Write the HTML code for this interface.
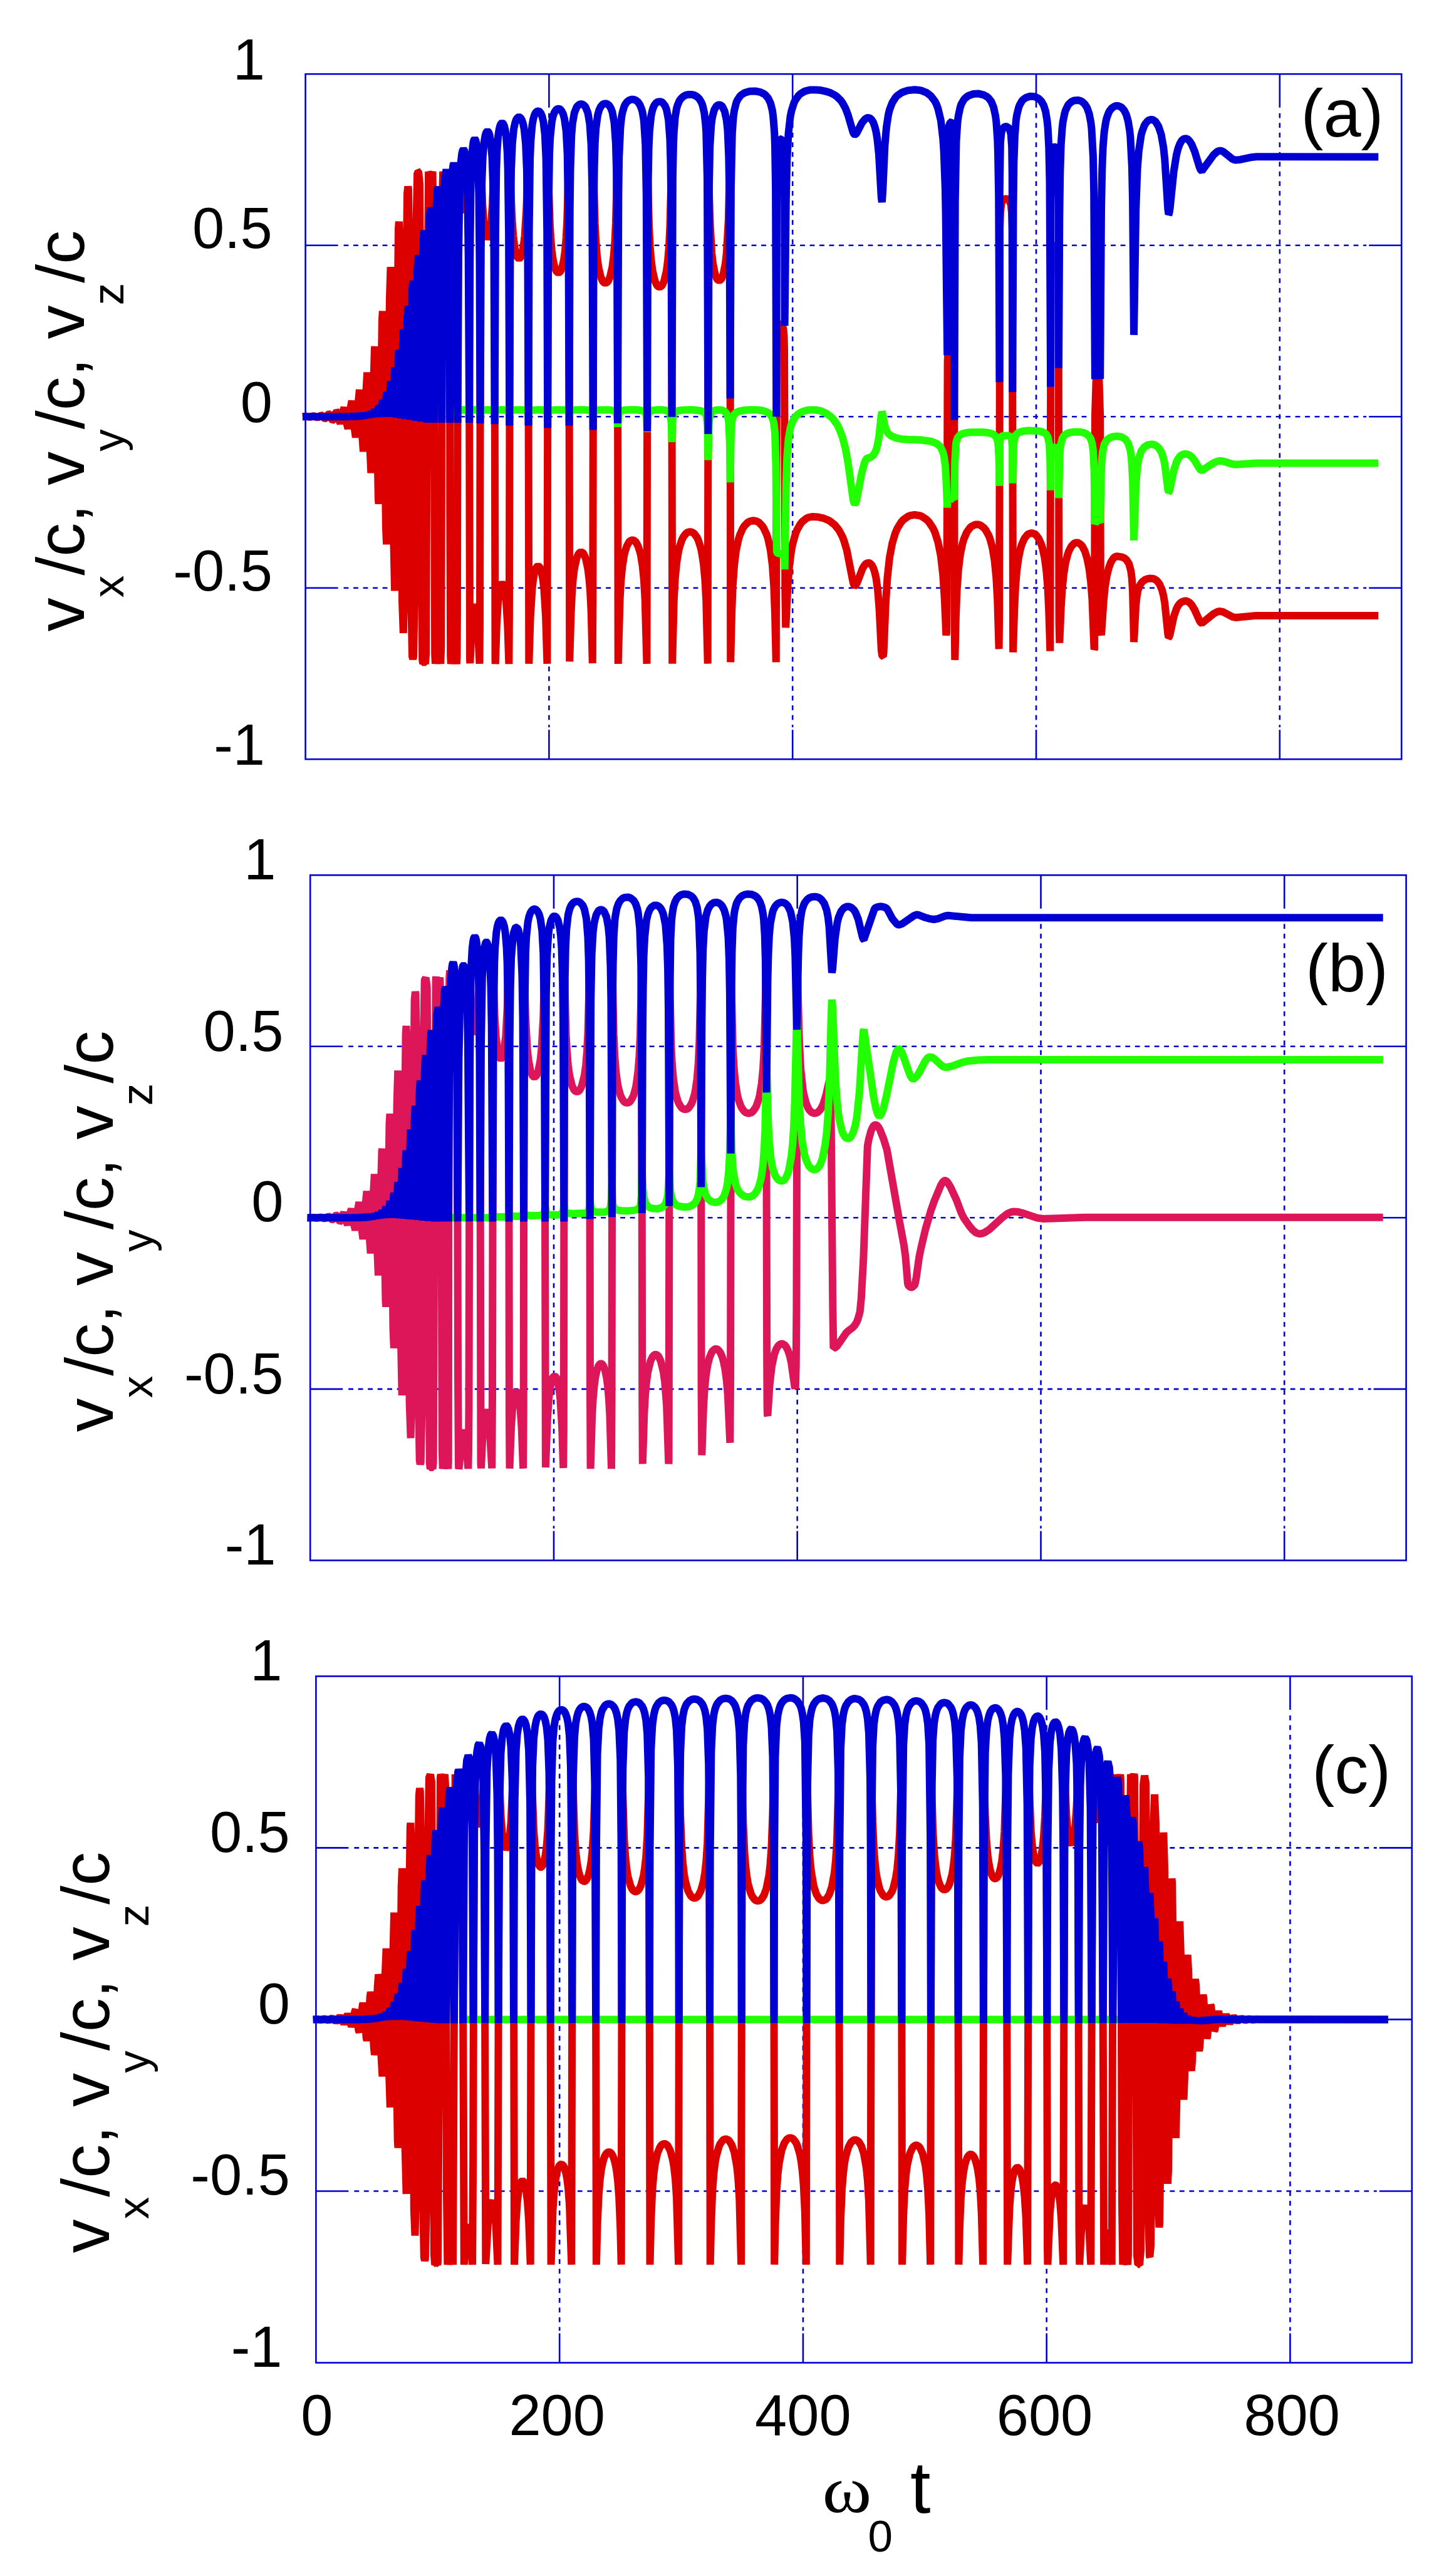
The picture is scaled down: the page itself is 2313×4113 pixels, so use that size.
<!DOCTYPE html>
<html lang="en"><head><meta charset="utf-8"><title>velocity components</title>
<style>html,body{margin:0;padding:0;background:#fff}svg{display:block}text{font-family:"Liberation Sans",sans-serif;fill:#000}.tk{font-size:92px}.ti{font-size:108px}.sb{font-size:71px}.tg{font-size:108px}.om{font-family:"Liberation Serif",serif;font-size:112px}.fr{fill:none;stroke:#0000d2;stroke-width:2.6}.gd{fill:none;stroke:#0000d2;stroke-width:2.6;stroke-dasharray:7.8 7.7}.cv path{fill:none;stroke-width:12;stroke-linejoin:bevel;stroke-linecap:butt}</style></head><body>
<svg width="2313" height="4113" viewBox="0 0 2313 4113">
<rect width="2313" height="4113" fill="#fff"/>
<g id="panel-a">
<path d="M876.4 118.2 V171.7 M876.4 1165.2 V1212.2" class="fr"/>
<path d="M876.4 180.7 V1161.2" class="gd"/>
<path d="M1265.2 118.2 V171.7 M1265.2 1165.2 V1212.2" class="fr"/>
<path d="M1265.2 180.7 V1161.2" class="gd"/>
<path d="M1654.0 118.2 V171.7 M1654.0 1165.2 V1212.2" class="fr"/>
<path d="M1654.0 180.7 V1161.2" class="gd"/>
<path d="M2042.8 118.2 V171.7 M2042.8 1165.2 V1212.2" class="fr"/>
<path d="M2042.8 180.7 V1161.2" class="gd"/>
<path d="M487.6 391.7 H539.6 M2185.2 391.7 H2237.2" class="fr"/>
<path d="M548.6 391.7 H2181.2" class="gd"/>
<path d="M487.6 665.2 H539.6 M2185.2 665.2 H2237.2" class="fr"/>
<path d="M548.6 665.2 H2181.2" class="gd"/>
<path d="M487.6 938.7 H539.6 M2185.2 938.7 H2237.2" class="fr"/>
<path d="M548.6 938.7 H2181.2" class="gd"/>
<g class="cv">
<path d="M482.9 665.2L488.4 664.7L494.5 666L500.6 664.1L506.7 666.8L512.8 663L513.7 663.2L517.7 667.7L518.9 668.3L519.7 668L521.7 665.4L523.7 661.9L525 661L525.7 661.2L527.7 664.8L529.7 669.6L531.1 671L531.7 670.8L533.7 666.1L535.7 659.5L537.3 657.3L537.8 657.6L539.8 663.6L541.8 672.7L543.4 676L545.8 668L547.8 655.6L549.5 650.9L551.8 660.8L553.8 677.5L555.6 684.5L557.8 671.9L559.8 649.9L561.7 640L563.8 655.1L565.8 684.2L567.8 698.5L569.8 680.2L571.9 642.5L573.9 622.2L575.9 643.7L577.9 692.4L580 721L581.9 695.8L583.9 633.8L586.1 594.5L587.9 622.6L589.9 700.5L592.3 755.3L593.9 724.6L595.9 627.8L597.9 556.9L598.4 553.4L599.9 584.4L603.9 797.1L604.6 804.5L605.9 775.4L609.9 511.3L610.8 496.7L611.9 519.6L615.9 840.9L617.1 869.2L617.9 855.5L621.9 478.7L623.5 426.5L624 430.2L626 569.8L628 845.9L630.1 943.3L632 858.6L634 539.4L636 365L636.8 353.7L638 379.2L642 959.3L643.8 1010.9L646 919.8L648 490.8L650 309.6L651.2 297.5L652 303L654 445.5L656 943.2L658 1047.8L659.1 1052.2L660.1 1048.4L662.1 939L664.1 383.3L666.1 277.5L667.6 274.1L668.1 274.3L670.1 294.3L674.1 1052.5L675.1 1059.7L677 1057.7L678.8 1059.7L680.1 1044.9L682.1 521.4L684.1 274.1L686.1 281.8L687.4 284.6L688.1 283.7L690.5 273.8L692.1 382.5L694.2 1044.4L694.9 1059.7L698.2 1036.3L699.2 1034.6L700.2 1036.5L703.3 1059.7L704.2 1033.8L706.2 310.4L707.1 273.8L710.2 307.9L712.5 316.2L714.3 311.1L717.8 273.8L718.3 817.6L719.2 1046.9L719.8 1060.1L722.7 1031.1L723.9 1026.5L724.7 1026.5L726.3 1033.8L728.8 1060.1L729.5 1046.9L729.9 978.9L731 410.6L731.7 277.2L732 271.1L732.2 270.6L732.6 273.6L734.6 306.1L736.7 327.2L737.9 333.5L738.6 335.4L739.8 337L741.1 335.4L741.7 333.5L743.5 323L747.4 270.6L748.2 291.2L748.6 355.2L750 1052.9L750.4 1059.1L752.4 1009.5L753.8 987.7L755.4 973.6L756.6 968.6L757.8 966.9L759.1 968.6L760.2 973.6L761.9 987.7L765.5 1059.7L766 1001.1L767 366.9L767.6 272.7L767.8 270.5L768.1 275.1L770.2 325.8L772 351.7L774.9 372.9L776.5 378L778.1 379.7L779.8 378L781.4 372.9L784.3 351.7L786.1 325.8L788.5 270.5L789.3 366.9L790.5 1053.2L790.7 1060.1L790.9 1056.8L792.8 998.5L795.1 960.1L798.1 938.5L799.8 933.4L801.5 931.7L803.3 933.4L804.9 938.5L807.9 960.1L810.3 998.5L812.4 1060.1L812.9 982.1L814.2 272.9L817.1 345.2L819.3 376.6L821.1 391.5L823 402.2L825.1 409.1L826.2 411.2L828.4 412.8L830.7 411.2L831.8 409.1L833.9 402.2L835.8 391.5L837.6 376.6L840.4 332.4L842.4 270.9L843.1 334.9L844.3 1059.8L846.7 984.6L849.5 939.5L851.3 924.6L853.3 914L855.5 907.3L856.6 905.2L858.9 903.6L861.2 905.2L862.3 907.3L864.5 914L866.5 924.6L868.3 939.5L871.1 984.6L873.4 1059.8L875 270.3L877.6 354.6L879.1 380.2L880.8 400.1L882.8 414.9L885.1 425.3L887.5 432L888.8 434L891.4 435.6L894 434L895.3 432L897.7 425.3L900 414.9L902 400.1L903.7 380.2L905.1 354.6L907.7 270.3L908.3 389.3L909.2 1056.3L911.6 976.9L913 947.7L914.7 925L916.8 908L920.5 891.2L923.3 884.7L924.7 882.8L927.6 881.2L930.5 882.8L932 884.7L934.7 891.2L938.4 908L940.5 925L942.3 947.7L943.7 976.9L945.8 1059L946.4 955.7L947.3 273.3L949.7 356.7L951.2 386L953 408.6L955.2 425.5L959 442.3L961.8 448.7L963.3 450.6L966.3 452.2L969.3 450.6L970.8 448.7L973.7 442.3L977.5 425.5L979.6 408.6L981.5 386L982.9 356.7L985.1 272L985.7 371.5L986.7 1059.9L989.6 955.8L991.3 926.3L993.5 904.1L996.1 887.7L997.5 881.3L1000.7 871.6L1004.1 865.5L1005.9 863.6L1009.6 862.2L1013.2 863.6L1015 865.5L1018.4 871.6L1021.6 881.3L1023.1 887.7L1025.7 904.1L1027.9 926.3L1029.6 955.8L1032.5 1059.9L1033.7 271.8L1036.1 363.4L1037.6 392.9L1039.4 415.4L1041.6 432.1L1045.4 448.6L1048.3 454.9L1049.8 456.9L1052.8 458.4L1055.8 456.9L1057.3 454.9L1060.1 448.6L1064 432.1L1066.1 415.4L1068 392.9L1069.4 363.4L1071.9 271.8L1073.2 1059.7L1075.8 958.2L1077.6 924.5L1080 899.2L1083 880.6L1084.7 873.3L1088.4 862.1L1090.4 857.9L1094.7 852.1L1096.9 850.3L1101.4 848.9L1106 850.3L1108.2 852.1L1112.5 857.9L1114.5 862.1L1118.2 873.3L1119.9 880.6L1122.9 899.2L1125.3 924.5L1127.2 958.2L1129.7 1059.7L1131 274.5L1133.2 352.2L1136.1 404.1L1138.1 421.1L1141.5 438L1144 444.5L1145.3 446.5L1148 448L1150.7 446.5L1152 444.5L1154.5 438L1157.9 421.1L1159.8 404.1L1162.8 352.2L1164.8 271.2L1165.4 376L1166.2 1057.3L1168 980.4L1169.7 935.8L1172.1 902.5L1175.1 878.3L1178.9 860.7L1181.1 853.9L1185.8 843.4L1188.4 839.5L1193.8 834L1196.7 832.4L1202.5 831.1L1208.3 832.4L1211.2 834L1216.6 839.5L1219.2 843.4L1224 853.9L1226.1 860.7L1229.9 878.3L1233 902.5L1235.3 935.8L1237 980.4L1238.8 1057.3L1239.9 557.7L1240.4 537.3L1241.5 525L1243.1 519.8L1244.5 518L1246 517.5L1247.5 518L1248.9 519.8L1250.4 525L1251.5 537.3L1252 557.7L1253.3 940.6L1254.2 1002.2L1257.4 936.1L1260 903.4L1263.3 878.3L1265.3 868.3L1269.8 852.3L1272.3 846L1277.9 836.3L1280.9 832.7L1287.3 827.6L1290.6 826.1L1297.3 824.9L1305.8 825.5L1314.1 827.3L1322 830.5L1325.7 832.7L1332.8 838.4L1339.1 846.3L1344.7 856.8L1347.2 863.2L1351.7 878.4L1361.7 929.6L1363.1 933.9L1364.4 935.4L1365.9 934.6L1368.2 930.4L1376.9 907.6L1379.9 902.7L1381.9 900.4L1385.1 898.7L1387.5 898.8L1388.8 899.5L1391.5 902.1L1394 906.7L1396.3 913.6L1398.5 923.2L1401.3 943.8L1403.6 973L1406.9 1038.7L1407.9 1045.8L1409.1 1047.8L1409.8 1048.1L1410.6 1041.3L1413.7 965.5L1416.5 922.2L1420 890.2L1424.4 866.9L1429.5 850.1L1432.4 843.6L1438.6 833.6L1442 829.9L1449 824.8L1452.6 823.2L1460 822L1467.9 823.2L1471.8 824.7L1479.2 829.8L1482.7 833.4L1489.2 843.1L1492.2 849.4L1497.4 865.6L1501.8 887.7L1505.2 917.6L1507.8 956.5L1510.3 1014.5L1510.9 1009.7L1511.4 962.4L1512.6 579.3L1513 566.9L1514 559.9L1515.7 556.6L1518.2 555.8L1520.7 557.5L1522.2 562.6L1523.1 586.4L1523.7 999.4L1524.3 1053.8L1525.8 986.8L1527.5 943.2L1529.8 910L1532.8 885.5L1536.5 867.6L1538.6 860.6L1543.2 849.9L1548.3 842.7L1551 840.3L1556.6 837.6L1562.3 837.6L1565.1 838.6L1570.5 842.7L1573.1 845.8L1578 854.5L1580.3 860.2L1584.3 875.1L1587.6 895.5L1590.3 923L1592.3 959.2L1594.6 1036.2L1595.2 973.1L1596.1 364.8L1596.9 338.6L1598.6 325L1599.8 321.7L1601.9 318.8L1604.2 317.5L1606.7 317.4L1609.2 318.3L1611.3 320.5L1613.7 327.3L1614.9 338.6L1615.7 364.8L1617.1 1041.6L1619.1 976L1620.8 940L1623 911.9L1625.9 890.7L1629.2 875.2L1631.1 869.1L1635.2 859.9L1639.7 854.1L1642 852.4L1646.7 851L1651.4 852.4L1653.7 854.1L1658.1 859.9L1662.2 869.1L1664.1 875.1L1667.5 890.6L1670.3 911.7L1672.6 939.6L1674.3 975.4L1676.3 1039.5L1677.5 436.5L1678 412.2L1678.8 401.4L1680.6 393.9L1682 392.2L1683.5 391.7L1685.1 392.2L1686.5 393.9L1688.3 401.4L1689.1 412.2L1689.6 436.5L1690.4 928L1690.6 994.6L1691.3 1026.6L1693.7 969.7L1695.6 940.1L1698 916.4L1700.9 898.3L1704.4 884.9L1706.2 879.8L1710.3 872.1L1714.5 867.7L1716.7 866.7L1718.9 866.3L1721.2 866.7L1725.5 869.6L1727.7 872.2L1731.7 880L1735.3 891.5L1738.5 907.5L1741.2 928.9L1743.4 956.6L1746.6 1037.1L1747 1036L1747.9 665.2L1750.7 573.4L1752.1 555.8L1753.4 573.4L1756.2 665.2L1756.9 957.8L1757.2 996.4L1757.6 1012.5L1758 1014.1L1761.7 959.5L1763.9 937.7L1766.6 920.3L1769.8 907.1L1773.3 897.7L1777.1 891.6L1779.1 889.7L1781.1 888.6L1783.1 888.2L1791 889.4L1794.6 891L1797.9 893.6L1802.1 900L1805.3 911.7L1806.9 924.9L1808.1 945.1L1810 1025.1L1813.2 965.9L1814.7 952L1816.6 942.2L1818.9 935.5L1823.2 929L1828.2 925.4L1831.9 924.1L1835.8 923.5L1841.3 924L1846.3 926.8L1850.9 932.6L1855 942.2L1857.3 951.4L1859.3 963.1L1864.4 1012.9L1865.5 1017.6L1866.2 1017.1L1867.6 1013L1873.6 985L1878 971.8L1880.5 967.2L1883.2 963.7L1886 961.3L1890.5 959.6L1893.4 959.6L1896 960.4L1898.6 962L1902.3 965.9L1907 973.7L1915 991.6L1916.8 994.2L1918.5 995.1L1937.2 980L1943.4 976.7L1947.5 976L1952.8 977.2L1967 984.8L1972.4 986L2005.5 982.9L2200.3 983" stroke="#dc0000"/>
<path d="M712.5 665.2L718.1 665.2L720 656.5L721.6 654.9L723.9 654.3L726.7 654.7L728.6 656.5L730.5 665.2L731.7 659.4L732.9 656.7L735.1 655L738.6 654.3L743.5 654.7L746.4 656.2L747.7 658.6L749.2 665.2L750.2 659L751.3 656.4L753.8 654.7L757.8 654.3L761.9 654.7L764.4 656.4L765.5 659L766.5 665.2L767.8 658.7L769.2 656.2L772.7 654.7L778.1 654.3L783.6 654.7L787 656.2L788.5 658.7L789.7 665.2L790.9 658.3L792.3 655.9L795.1 654.7L801.5 654.3L807.9 654.7L810.7 655.9L812.1 658.2L813.3 665.2L814.5 658.8L815.5 656.6L817.8 655.2L821.1 654.6L832.8 654.4L839.8 655.5L841.4 656.6L842.1 657.9L843.6 665.2L844.9 657.6L846.1 655.9L848.7 654.9L861.2 654.3L870.5 655.3L872.1 656.3L872.9 657.5L874.2 665.2L875.3 658.2L876 656.7L877.6 655.5L885.1 654.4L901 654.6L904.5 655.2L906.7 656.8L907.7 659.3L908.6 665.2L909.7 657.9L911.6 655.6L916.8 654.6L930.5 654.3L940.5 654.9L944.3 656.4L945.8 660L946.7 667.9L947.8 658.7L949.7 655.9L952.1 655.1L956.4 654.5L972.3 654.4L979.6 655.6L982.2 657L983.5 658.6L985.1 665.8L986 681.6L987.3 662.4L988.2 659.1L989.6 657.3L992.3 655.7L997.5 654.7L1007.7 654.3L1018.4 654.5L1026.8 656.1L1029.6 658.1L1030.9 660.5L1032.2 667.8L1033.1 689.8L1034.2 665.2L1035 660.9L1036.1 658.4L1038.5 656.2L1042.8 654.9L1051.3 654.3L1058.7 654.6L1062.8 655.2L1066.1 656.6L1068.7 659.1L1070 662.1L1071.6 675.3L1072.5 705.7L1073.5 671.7L1074.4 664.4L1076.6 659L1078.8 657.1L1081.5 656L1088.4 654.8L1103.7 654.3L1116.4 655.4L1121.5 656.9L1124.2 658.6L1126.3 661.3L1127.9 665.9L1129.4 680.7L1130.4 734.7L1131.5 681L1132.2 670.7L1133.2 664.4L1135.3 659.2L1137.1 657.2L1139.2 655.9L1145.3 654.4L1152 654.7L1156.8 656.9L1159.8 660.4L1162.2 667L1163.3 674.6L1164.8 706.6L1165.6 770.2L1166.9 690.5L1168 674.8L1168.8 670L1170.8 663.7L1173.5 660L1176.9 657.7L1181.1 656.3L1188.4 655L1199.6 654.3L1208.3 654.4L1216.6 655.5L1224 657.8L1228.1 660.4L1229.9 662.3L1233 667.5L1235.3 676L1237 691.2L1238.5 743.2L1239.8 879.8L1240.2 882L1241.2 883.2L1248.9 884.4L1250.4 885.3L1251.3 886.7L1252.2 892.7L1252.6 909.2L1254.8 772.7L1256.4 728.5L1258.6 700.9L1261.5 683.6L1263.3 677.4L1267.4 668.4L1269.8 665.2L1275 660.3L1280.9 657.2L1287.3 655.3L1293.9 654.4L1301.6 654.5L1310 656.1L1318.1 659.5L1325.7 664.9L1329.4 668.4L1336.1 677.6L1339.1 683.4L1344.7 697.7L1349.6 716.2L1353.7 738.8L1361.7 796.7L1363.1 802.6L1364.4 804.6L1365.9 802.9L1367.5 797.9L1375.1 757.2L1379.9 739L1381.9 734.5L1384 731.8L1390.1 729.9L1394 726.8L1397.4 721.2L1399.5 715.7L1402.9 699.3L1406.9 661.6L1407.9 658.1L1408.5 659.2L1411.5 676.1L1413.7 684.2L1416.5 690.2L1418.1 692.4L1422.1 695.8L1429.5 699.1L1438.6 700.9L1449 701.8L1471.8 702.6L1486 704.7L1494.9 708.2L1499.7 712L1501.8 714.6L1505.2 722L1506.6 727.2L1508.8 742.1L1510.3 765.3L1512.2 810.6L1512.5 800.4L1513.2 797.6L1514.6 796.8L1517.4 796.5L1522.6 796.6L1523.4 797.3L1524.3 737.2L1525.8 710.1L1526.5 705.4L1528.5 699.2L1531.2 695.6L1534.5 693.3L1540.8 691.3L1548.3 690.3L1567.9 690L1575.6 690.7L1582.3 692.2L1586 693.8L1589 696.4L1591.4 700.5L1592.3 703.6L1593.7 713.1L1594.6 730.2L1595.5 775.8L1596 710L1596.6 701.7L1598.1 697.6L1599.8 696.3L1601.9 695.6L1609.2 695.5L1613.2 697L1614.9 700L1616 714.4L1616.3 771.7L1617.9 711.8L1619.1 702L1619.9 698.8L1621.8 694.4L1624.4 691.7L1627.5 690L1633.1 688.4L1639.7 687.6L1656 687.9L1662.2 689L1667.5 691.2L1670.3 693.7L1672.6 697.7L1674.9 709L1676.3 734.8L1677.1 782.9L1677.3 734.4L1678 719.6L1679.4 715.9L1681.1 714.8L1683 714.4L1686.9 715.4L1688 716.6L1688.9 719.1L1689.7 732L1690 795.3L1691.7 725.5L1692.9 711.7L1695.6 700.4L1698 696.2L1700.9 693.5L1704.4 691.7L1708.2 690.6L1714.5 689.6L1723.4 689.7L1729.7 690.9L1733.6 692.5L1738.5 696.5L1741.2 701.1L1743.4 708.1L1745 719.5L1746.6 752.2L1747.9 836.7L1750.7 830.5L1751.9 829.3L1753.4 830.2L1756.2 834.6L1757.6 762.1L1758.5 737.9L1759.9 722.7L1762.7 709.6L1766.6 702.7L1769.8 699.9L1773.3 698.2L1777.1 697.1L1783.1 696.5L1787.1 696.9L1791 698L1796.3 701.3L1800.8 707.6L1804.4 719.3L1806.1 732.2L1808.1 765.5L1810 862.8L1813.2 773.4L1815.6 744.4L1817.7 732.2L1821.6 720.4L1826.5 713.8L1831.9 710.4L1837.8 709.4L1841.3 709.8L1844.7 711.1L1849.4 714.9L1853.7 721.6L1857.3 732L1859.3 741.5L1864.4 781.9L1865.5 785.8L1866.2 785.2L1867.6 780.9L1873.6 751.4L1878 737.7L1880.5 732.8L1883.2 729.1L1886 726.6L1890.5 724.8L1896 725.4L1898.6 726.6L1902.3 729.5L1907 735.3L1915 748.6L1916.8 750.5L1918.5 751.2L1937.2 739.1L1943.4 736.4L1947.5 735.9L1952.8 736.5L1967 741L1972.4 741.7L2005.5 739.4L2200.3 739.4" stroke="#22ff00"/>
<path d="M482.9 665.2L558.4 665.2L561.7 664.6L564.6 665.2L567.8 664.2L570.7 665.2L573.9 663.5L576.8 665.2L580 662.4L582.9 665.2L586.1 660.7L589 665.2L592.3 658L595.2 665.2L598.4 653.8L601.4 665.2L604.6 647.6L607.6 665.2L610.8 638.6L613.8 665.2L617.1 625.8L617.9 631.3L620.2 665.2L623.5 608.4L626.6 665.7L630.1 586.6L633.3 666.8L636 568.9L636.8 559.1L638 580.5L640.1 668L642 576.6L643.8 526L647.3 669.2L650 509.2L651.2 488.5L652 498.8L654.9 670.5L658 462.1L659.1 448.3L660.1 460.6L663.1 671.8L666.1 433.4L667.6 407.5L668.1 409.6L670.1 484.3L672 673.3L674.1 449L675.1 396.2L676.1 374.2L677 368.2L678.1 377.7L678.8 396.3L680.1 472.1L681.8 675L684.1 408.4L686.1 340.7L687.4 331.6L688.1 334.2L690.5 396.5L692.8 675L694.9 396.2L696.2 336.3L698.2 302.1L699.2 298.8L700.2 302.5L702.2 338.8L703.3 396.8L705.3 675L707.1 396.3L708.2 328.2L710.2 282.9L712.5 270.6L714.3 277.9L716.3 313.4L717.8 396.1L718.1 675L720 345.9L721.6 285.6L722.7 268.8L723.5 263.1L724.3 261.3L725.1 263.1L725.9 268.8L727 285.6L728.6 345.9L730.5 675L732 410.2L733.3 316.1L735.6 260.3L737.3 245.2L738.6 240.1L739.8 238.5L741.1 240.1L742.3 245.2L744.1 260.3L746.4 316.1L747.7 410.2L749.2 675L750.2 418.5L751.3 310.3L752.4 266.7L753.8 241.6L755.4 227.9L756.6 223.4L757.8 221.9L759.1 223.4L760.2 227.9L761.9 241.6L763.3 266.8L764.4 310.4L765.5 418.7L766.5 676.1L767.8 397.2L769.2 291.4L770.7 250.5L772.7 227.4L774.9 214.9L776.5 210.8L778.1 209.5L779.8 210.8L781.4 214.9L783.6 227.4L785.5 250.6L787 291.5L788.5 397.5L789.7 677.2L790.9 371.7L792.3 270.2L793.3 242.9L795.1 217.7L796.6 207.5L798.1 201L799.8 197.4L801.5 196.3L803.3 197.4L804.9 201.1L806.5 207.5L807.9 217.7L809.8 243L810.7 270.3L812.1 372.1L813.3 679.4L814.5 391.6L816 271.4L817.8 229.1L820.1 206L822 196.9L824 191L826.2 187.8L828.4 186.7L830.7 187.8L832.8 191L834.9 196.9L836.7 206L839.1 229.1L840.9 271.4L842.4 391.6L843.6 679.4L844.6 368.1L846.1 253.3L847.3 225L849.5 199.7L851.3 189.8L853.3 183.2L855.5 179.3L857.7 177.5L860 177.5L861.2 178.1L863.4 181L865.5 186.1L867.4 194.3L869.8 214.9L871.6 253.5L873.2 368.7L874.2 683.3L875.3 358.7L877 246.2L878.3 218.9L880.8 194.8L882.8 185.3L885.1 179.2L887.5 175.5L890.1 173.7L892.7 173.7L894 174.4L896.5 177.1L898.9 181.9L901 189.6L903.7 209.1L905.7 246L907.4 358.1L908.6 679.4L909.7 336.5L910.5 270.6L912.2 217.3L913.8 197.6L916.8 180.2L920.5 171L921.9 169.2L924.7 166.8L927.6 166L930.5 166.8L933.4 169.2L934.7 171L938.4 180.3L941.4 197.7L943.7 231.2L945.2 299.9L946.7 686.5L947.8 334.8L948.6 268.9L949.7 229.4L951.2 205L954.1 183.8L956.4 175.5L959 170.1L961.8 166.9L964.8 165.4L967.8 165.4L969.3 166L972.3 168.3L975 172.5L977.5 179.2L980.6 196.3L982.9 229.2L984 268.3L984.8 333.5L986 676.1L987.3 312.2L988.2 250.9L990.4 203.1L992.3 185.9L993.5 179.8L996.1 170.8L997.5 167.5L1000.7 162.9L1004.1 160.1L1007.7 158.8L1011.4 158.8L1015 160.1L1018.4 162.9L1021.6 167.6L1024.4 174.8L1025.7 179.8L1027.9 193.6L1030.3 231.2L1031.8 313.4L1033.1 688.7L1034 372.3L1034.6 288.1L1035.5 239.1L1036.8 209.6L1039.4 184.6L1041.6 175L1044.1 168.7L1046.8 164.8L1049.8 162.6L1054.3 162.1L1057.3 163.5L1061.5 168.7L1064 175L1067.1 191L1069.4 222.1L1070.5 259.2L1071.3 321.9L1072.5 665.7L1073.9 283.2L1075 228.6L1075.8 211.2L1077.6 187.7L1080 173.2L1081.5 168.1L1084.7 160.7L1086.5 158.1L1090.4 154.2L1094.7 151.9L1099.2 150.9L1103.7 150.9L1108.2 151.9L1112.5 154.2L1116.4 158.1L1119.9 164.1L1121.5 168.2L1124.2 179.8L1126.3 198.3L1127.2 211.7L1129 285.2L1130.4 693.1L1131.8 303.9L1133.2 233.9L1135.3 199.7L1137.1 186.6L1140.3 174.9L1144 169.1L1146.7 167.5L1149.4 167.5L1152 169L1153.3 170.5L1156.8 177.9L1159.8 192.1L1161.5 207.9L1163.3 249.4L1164.2 298.8L1165.6 636.2L1166.9 298.8L1168.8 212L1170.8 185.5L1172.1 176.7L1175.1 164.4L1176.9 160L1181.1 153.8L1183.4 151.5L1188.4 148.3L1196.7 145.8L1205.4 145.5L1213.9 147.2L1219.2 149.7L1221.7 151.5L1226.1 156.6L1229.9 164.5L1233 176.8L1234.2 185.7L1236.3 212.7L1237 233.4L1238.1 301.8L1239.3 665.2L1240 316.9L1240.6 268.8L1241.9 239.2L1242.6 231.5L1244 224.8L1245.5 222.1L1246.5 222.1L1247.5 223L1248.9 226.5L1250.1 233.6L1251.3 253.5L1252.2 325.3L1252.6 520.2L1254.8 318.4L1256.4 253.1L1258.6 212.3L1261.5 186.6L1263.3 177.5L1267.4 164.2L1269.8 159.4L1275 152.2L1277.9 149.6L1284 146L1287.3 144.8L1293.9 143.4L1301.6 143.4L1310 144.1L1318.1 145.8L1325.7 148.3L1332.8 152L1336.1 154.4L1342 160.3L1344.7 164L1349.6 172.8L1353.7 183.6L1361.7 211.1L1363.1 213.9L1364.4 214.9L1365.9 214.3L1367.5 212.5L1376 196L1380.9 190.1L1384 188.3L1386.1 188L1388.8 188.8L1391.5 191.2L1394 195.4L1396.3 201.8L1398.5 210.5L1400.4 222.3L1402.9 246.4L1406.9 316.3L1407.9 322.8L1409.1 305.9L1412.5 231.7L1415 203.1L1418.1 182.9L1420 175.2L1424.4 163.7L1429.5 155.7L1432.4 152.7L1438.6 148.3L1442 146.7L1449 144.4L1460 143.3L1467.9 144L1471.8 144.9L1479.2 148.1L1486 153.3L1492.2 161.4L1494.9 166.8L1497.4 173.6L1501.8 192.1L1505.2 220.9L1506.6 241.1L1508.8 299.4L1509.6 340.3L1512.2 567.3L1512.4 331.3L1513 232.7L1513.7 212.9L1514.9 200.7L1516.9 195.2L1518.2 194.9L1519.1 196L1520.7 202.4L1521.6 212.8L1522.7 256.6L1523.4 670.7L1524.7 321.2L1526.5 225.2L1528.5 195.2L1529.8 185.2L1532.8 171.2L1534.5 166.3L1538.6 159.1L1540.8 156.6L1545.7 152.9L1553.8 150L1562.3 149.6L1570.5 151.6L1575.6 154.5L1578 156.5L1582.3 162.2L1586 171L1589 184.7L1590.3 194.4L1592.3 223.3L1593 245L1594.2 313.3L1595.5 610.1L1595.8 304.2L1596.9 227.1L1598.6 211.1L1600.5 205.9L1602.6 203.2L1604.2 202.3L1606.7 202.1L1609.9 203.9L1612 207.4L1613.7 214.2L1615.2 235.7L1615.8 279.7L1616.3 625.9L1617.5 331.7L1618.4 258.9L1619.9 217.5L1621.8 192.9L1623 184.4L1625.9 172.3L1627.5 167.9L1631.1 161.5L1633.1 159.2L1637.4 156L1644.3 153.8L1651.4 154.2L1658.1 157.4L1662.2 161.5L1665.9 167.9L1669 177.6L1671.5 192.8L1672.6 203.5L1674.3 235L1675.5 289.3L1677.1 617.6L1677.4 317.6L1678.5 251.8L1679.4 242.3L1680.6 237.5L1682.5 234.7L1683.5 234.4L1685.1 235L1686.5 237.2L1687.7 241.7L1689.1 260.8L1689.8 337.7L1690 587.8L1691.3 345.9L1692.3 274.2L1693.7 230.7L1695.6 204.1L1696.7 194.7L1699.4 181.1L1700.9 176.1L1704.4 168.9L1706.2 166.2L1710.3 162.5L1714.5 160.5L1721.2 160L1725.5 161.3L1727.7 162.6L1731.7 166.3L1735.3 172.2L1738.5 181.2L1741.2 194.9L1742.4 204.4L1745 250.7L1746.2 307.9L1747.9 605.2L1750.7 517.8L1752.1 501.1L1753.4 517.8L1756.2 605.2L1758 333.8L1759.2 272.8L1760.7 234.5L1762.7 210.1L1765.2 194.2L1766.6 188.3L1769.8 179.7L1771.5 176.6L1775.2 172.2L1779.1 169.7L1781.1 169.1L1785.1 169.1L1789.1 170.7L1791 172.1L1794.6 176.4L1797.9 183.2L1800.8 193.4L1803.3 208.7L1804.4 219L1806.9 266.9L1808.1 320.8L1810 534.8L1813.2 334.6L1815.6 269.5L1817.7 242L1821.6 215.7L1823.2 209.8L1826.5 200.9L1828.2 197.7L1831.9 193.2L1833.9 191.9L1837.8 190.9L1841.3 191.7L1844.7 194.3L1849.4 202L1853.7 215.2L1857.3 235.8L1859.3 254.6L1864.4 334.6L1865.5 342.2L1866.2 341.1L1867.6 332.6L1873.6 274.2L1878 246.9L1880.5 237.2L1883.2 230L1886 225L1887.5 223.3L1890.5 221.4L1893.4 221.3L1896 222.4L1898.6 224.8L1902.3 230.5L1907 241.8L1915 267.8L1916.8 271.6L1918.5 272.9L1937.2 247.3L1943.4 241.8L1947.5 240.6L1949.3 240.8L1952.8 242.3L1967 253.7L1970.6 255.3L1972.4 255.5L1979.5 254.9L1998.4 250.9L2005.5 250.3L2200.3 250.6" stroke="#0000d2"/>
</g>
<rect x="487.6" y="118.2" width="1749.6" height="1094.0" class="fr"/>
</g>
<g id="panel-b">
<path d="M884.0 1397.3 V1450.8 M884.0 2444.4 V2491.4" class="fr"/>
<path d="M884.0 1459.8 V2440.4" class="gd"/>
<path d="M1272.7 1397.3 V1450.8 M1272.7 2444.4 V2491.4" class="fr"/>
<path d="M1272.7 1459.8 V2440.4" class="gd"/>
<path d="M1661.5 1397.3 V1450.8 M1661.5 2444.4 V2491.4" class="fr"/>
<path d="M1661.5 1459.8 V2440.4" class="gd"/>
<path d="M2050.2 1397.3 V1450.8 M2050.2 2444.4 V2491.4" class="fr"/>
<path d="M2050.2 1459.8 V2440.4" class="gd"/>
<path d="M495.2 1670.8 H547.2 M2192.6 1670.8 H2244.6" class="fr"/>
<path d="M556.2 1670.8 H2188.6" class="gd"/>
<path d="M495.2 1944.3 H547.2 M2192.6 1944.3 H2244.6" class="fr"/>
<path d="M556.2 1944.3 H2188.6" class="gd"/>
<path d="M495.2 2217.9 H547.2 M2192.6 2217.9 H2244.6" class="fr"/>
<path d="M556.2 2217.9 H2188.6" class="gd"/>
<g class="cv">
<path d="M490.5 1944.3L495.2 1944.7L500.1 1943.8L506.2 1945.1L512.3 1943.3L518.4 1945.9L524.5 1942.2L525.3 1942.4L529.3 1946.8L530.6 1947.5L531.3 1947.3L533.3 1944.6L535.3 1941.2L536.7 1940.2L537.3 1940.4L539.3 1943.8L541.3 1948.8L542.8 1950.3L543.3 1950.1L545.3 1945.5L547.4 1938.8L548.9 1936.5L551.4 1942.5L553.4 1951.9L555 1955.4L557.4 1947.5L559.4 1935.1L561.1 1930.2L563.4 1939.7L565.4 1956.5L567.2 1964.1L569.4 1951.7L571.4 1929.7L573.3 1919.4L575.4 1933.9L577.5 1963.2L579.5 1978.5L581.5 1960.4L583.5 1922.6L585.5 1901.9L587.5 1922.3L589.5 1971.2L591.6 2001.4L593.5 1976.7L595.5 1914.6L597.8 1874.6L599.5 1901.1L601.5 1978.8L603.9 2036.4L605.5 2006.6L607.5 1909.5L609.5 1838.1L610.1 1834.1L611.5 1863L615.5 2078.2L616.2 2086.6L617.5 2058.8L621.5 1794L622.5 1778.3L623.5 1799.1L627.5 2121.6L628.8 2152.6L629.5 2140.3L631.6 1978.6L633.6 1763.6L635.2 1709.3L637.6 1844.1L639.6 2123.3L641.7 2227.9L643.6 2147.8L645.6 1829.6L647.6 1650.8L648.5 1638L649.6 1660L653.6 2239L655.6 2296.2L657.6 2211.3L659.6 1786.4L661.6 1596.7L662.9 1583.3L663.6 1587.6L665.6 1713L667.6 2214.9L669.7 2332.4L670.8 2337.8L671.7 2334.7L673.7 2239.1L675.7 1684.8L677.7 1564.8L679.7 1561L681.7 1576.4L685.7 2335.3L686.8 2345.1L688.7 2342.9L690.6 2345.1L691.7 2334.9L693.7 1865.4L695.7 1561.7L696.1 1560.6L697.7 1568L699.2 1571.6L699.7 1571.1L702.3 1560.6L703.8 1629.1L705.8 2316.3L706.7 2345.1L709.8 2321.7L711 2319.1L711.8 2320.3L715.2 2345.1L715.8 2334.2L716.3 1792L717.2 1562.7L718 1549.4L721.4 1578.4L722.8 1583L723.8 1583L725.6 1575.7L728.6 1549.4L729.3 1562.7L729.8 1630.6L731 2192.4L731.9 2333.8L732.1 2342.3L732.4 2345.1L732.7 2343.9L736.3 2300.5L738 2290.4L739.2 2287.3L739.8 2287L740.4 2287.3L741.7 2290.4L743.4 2300.5L747.3 2345.1L748 2317L748.5 2248.6L750 1554.3L750.2 1549.4L750.4 1551.7L751.9 1596.8L753.8 1628.3L755.4 1642.6L756.6 1647.7L757.8 1649.4L759.1 1647.7L760.3 1642.6L761.9 1628.3L763.3 1605.9L765.5 1549.4L766.2 1655.4L767.5 2336.8L768 2344.4L770.3 2295.9L772.5 2268.4L774.4 2256.8L775.1 2254.7L776.5 2253L777.9 2254.7L779.2 2259.8L781.1 2274L785.2 2344.4L786 2228.1L787.2 1552.3L789.7 1623.2L791.6 1654.5L794.8 1680.1L796.6 1687L797.5 1689.1L799.5 1690.8L801.4 1689.1L802.3 1687L804.1 1680.1L807.3 1654.5L809.7 1610.4L811.5 1549.9L812.1 1615.2L812.9 2259.4L813.5 2344.7L816.1 2277.4L818 2250.3L820.9 2228.5L822.6 2223.3L824.3 2221.5L826 2223.3L827.7 2228.5L830.6 2250.3L832.5 2277.4L835.1 2344.7L835.7 2259.4L836.4 1663.1L836.9 1549.6L838.9 1623.7L841.7 1675.3L843.6 1692.5L846.8 1709.6L849.3 1716.2L850.5 1718.2L853.1 1719.8L855.6 1718.2L856.9 1716.2L859.3 1709.6L862.6 1692.5L864.4 1675.3L867.3 1623.7L869.2 1549.6L870.9 2343.1L873.8 2265.8L876 2233.9L877.8 2218.7L879.7 2207.9L881.8 2200.9L882.9 2198.8L885.2 2197.1L887.4 2198.8L888.5 2200.9L890.6 2207.9L892.6 2218.7L894.3 2233.9L897.1 2279L899.2 2344L899.8 2282.6L900.9 1550L903.4 1649.1L905 1678.6L906.9 1701L909.2 1717.5L913.2 1733.8L916.2 1740L917.8 1741.9L921 1743.4L924.2 1741.9L925.7 1740L928.7 1733.8L932.8 1717.5L935.1 1701L937 1678.6L938.5 1649.1L941.1 1550L942 2224.4L942.6 2345.1L945.2 2259.4L946.7 2233.4L948.5 2213.3L950.5 2198.3L952.8 2187.7L955.3 2180.9L956.6 2178.9L958 2177.6L959.3 2177.2L960.6 2177.6L961.9 2178.9L963.2 2180.9L965.7 2187.7L968.1 2198.3L970.1 2213.3L971.9 2233.4L973.4 2259.4L976 2345.1L976.6 2224.4L977.5 1549.9L979.7 1652L981.2 1685.7L983.2 1710.9L985.7 1729.5L987.1 1736.8L990.1 1748L991.8 1752.2L995.3 1758L997.1 1759.8L1000.9 1761.2L1004.6 1759.8L1006.4 1758L1009.9 1752.2L1011.6 1748L1014.7 1736.8L1016 1729.5L1018.5 1710.9L1020.5 1685.7L1022 1652L1024.2 1549.9L1025.2 2230.7L1025.8 2337.4L1028.3 2258.3L1029.9 2229.3L1031.9 2206.7L1034.3 2189.7L1038.5 2172.8L1041.6 2166.3L1043.3 2164.3L1044.9 2163.1L1046.6 2162.7L1048.2 2163.1L1049.9 2164.3L1051.5 2166.3L1054.6 2172.8L1058.8 2189.7L1061.2 2206.7L1064.1 2243L1067.3 2337.4L1067.6 2333.3L1068.9 1552L1071.2 1664.8L1072.8 1698.3L1074.9 1723L1077.6 1741.1L1079 1748.1L1082.3 1758.9L1084.1 1762.9L1087.8 1768.5L1089.8 1770.2L1093.8 1771.5L1097.8 1770.2L1099.7 1768.5L1103.5 1762.9L1105.2 1758.9L1108.5 1748.1L1110 1741.1L1112.6 1723L1114.7 1698.3L1116.3 1664.8L1118.8 1554.8L1119.6 2222.4L1120.3 2323.5L1123 2245.8L1124.7 2217.7L1126.9 2195.9L1129.5 2179.5L1132.5 2167.7L1135.8 2159.7L1137.5 2157L1141 2154L1142.8 2153.6L1146.4 2155.1L1149.9 2159.6L1153.1 2167.3L1154.6 2172.5L1157.4 2186L1159.8 2204L1161.8 2227.3L1165.3 2303.7L1166.1 2195L1167 1552.5L1169.8 1672.8L1171.7 1706.1L1174.1 1730.4L1177 1748L1178.6 1754.9L1182.3 1765.4L1184.2 1769.3L1188.4 1774.8L1190.6 1776.4L1195 1777.7L1199.4 1776.4L1201.5 1774.8L1205.6 1769.3L1207.6 1765.4L1211.2 1754.9L1212.8 1748L1215.7 1730.4L1218.1 1706.1L1219.9 1672.8L1222.9 1552.5L1224.1 2148.2L1224.6 2245.1L1225 2259.3L1225.4 2260.4L1228.7 2210L1231.9 2181.8L1236 2162.4L1239.1 2153.9L1242.5 2148.4L1246 2145.7L1249.5 2145.6L1252.9 2148L1254.6 2150L1257.7 2156L1260.6 2164.5L1263.1 2175.6L1268.6 2214.6L1269.3 2216.8L1269.8 2214.1L1270.7 2182.3L1271.4 2092.8L1272.6 1614.8L1273.3 1564.3L1275.5 1654.4L1278.2 1707L1281.8 1740.3L1283.3 1748.3L1286.5 1760.8L1290.1 1769.4L1292 1772.5L1295.9 1776.4L1300 1777.7L1303.8 1776.8L1305.7 1775.6L1309.3 1771.9L1311 1769.3L1314.2 1762.6L1318.4 1749.1L1323.6 1726.2L1324.3 1725.7L1325 1729.4L1326.6 1787.5L1329.4 2092.5L1330.4 2152.6L1333.5 2151.5L1336.6 2148.7L1350.4 2128.6L1353.7 2125.3L1360.8 2120L1364.4 2116.1L1366.7 2112.5L1369.1 2107.3L1372.7 2094.6L1374.8 2073.1L1378.3 2009.9L1384.8 1829.8L1386.9 1818.5L1390.4 1805.6L1393.1 1799.6L1394.8 1797.2L1396.6 1796.1L1398.7 1796.2L1399.9 1796.9L1402.2 1799.6L1404.6 1803.8L1410.5 1818.7L1415.8 1835.8L1434.8 1944.3L1442.9 1988L1445.4 2006.4L1449 2049.5L1450 2052.6L1452.2 2054.6L1453.9 2055.4L1456.1 2055.2L1458.2 2053.6L1459.6 2052.2L1460.8 2049.2L1462.6 2039.9L1467.3 2006.7L1470 1993.6L1477.2 1963L1486.1 1932.4L1491.3 1917.7L1501.7 1892.7L1505.1 1887.1L1507.4 1885.2L1508.5 1885L1509.7 1885.2L1512.2 1887.2L1517.2 1895.2L1526.8 1916L1534.7 1937.1L1538.3 1944.3L1547.3 1957.4L1552.7 1963.9L1558.1 1968.4L1563.5 1970.1L1567.4 1969.5L1571.4 1968.1L1579.3 1963L1599 1944.9L1606.9 1938.7L1610.8 1936.5L1614.7 1935L1618.7 1934.5L1625.4 1935.1L1632.1 1936.8L1655.6 1944.6L1665.6 1946L1731.9 1943.8L2207.7 1943.8" stroke="#dd1559"/>
<path d="M711 1944.3L779.9 1944.3L784.3 1943.7L786.4 1941.6L787.7 1942.7L789.7 1943.1L805.8 1943.1L810.6 1942.3L811.5 1941.4L812.5 1938.9L813.7 1940.9L815.6 1941.7L828.5 1942L831.9 1941.5L833.9 1940.4L835.1 1938.1L836.1 1933.4L837.2 1938.3L839.5 1940.2L848 1941L861.6 1940.7L866 1939.7L868.2 1937.5L869.2 1933.8L870.1 1925.2L871.5 1935.1L872.2 1936.9L873.8 1938.4L876.8 1939.4L880.8 1939.8L891.6 1939.6L895.9 1938.5L898.1 1936.3L899.2 1932.8L900.3 1922.5L901.5 1933.1L902.3 1935L904.2 1936.4L908 1937.3L914.7 1937.7L932.8 1937.1L937 1935.9L938.5 1934.8L939.7 1932.9L940.8 1927.4L941.7 1911.5L942.9 1926.7L943.6 1930L945.2 1932.8L948.5 1934.6L952.8 1935.3L960.6 1935.6L965.7 1935.1L969.1 1934.1L971.9 1932.3L973.4 1930.3L974.5 1927.1L976 1914.2L976.9 1889.6L977.8 1917.7L978.6 1924.3L980.4 1929.1L982.2 1930.8L984.4 1931.8L990.1 1932.9L1002.7 1933.4L1013.2 1932.4L1017.3 1931L1019.6 1929.4L1021.3 1926.9L1022.6 1922.7L1023.9 1909.7L1024.8 1867.8L1026.2 1896.6L1027.6 1910.8L1029.9 1919.7L1031.9 1923.6L1034.3 1926.2L1037 1928.1L1041.6 1929.6L1049.9 1929.9L1054.6 1928.7L1057.5 1927.2L1060.1 1925L1062.3 1921.8L1064.8 1914.3L1066.1 1906.7L1068.3 1867.8L1070 1900.5L1071.2 1908.9L1073.8 1917.5L1077.6 1922.5L1080.6 1924.6L1084.1 1926L1091.8 1927.3L1099.7 1926.7L1105.2 1924.3L1110 1919.8L1112.6 1915.1L1114.7 1908.3L1116.3 1898.8L1117.5 1885.7L1119.2 1834.9L1121.7 1883.5L1123 1894.6L1125.8 1906.2L1129.5 1913.4L1134.1 1917.5L1137.5 1919.1L1141 1919.8L1146.4 1919.3L1151.5 1916L1156.1 1909.2L1159.8 1897.4L1161.8 1885.6L1163.3 1869.8L1164.5 1849.1L1166.5 1780.2L1168 1833.6L1169.1 1855.1L1170.7 1872.2L1174.1 1890.1L1175.4 1894.4L1178.6 1901.2L1180.4 1903.7L1184.2 1907.6L1188.4 1910L1192.8 1911.1L1197.2 1911L1199.4 1910.3L1203.6 1907.5L1205.6 1905.3L1209.4 1899L1211.2 1894.9L1214.3 1883.9L1215.7 1876.9L1218.1 1859L1219.9 1834.8L1221.3 1803.2L1223.6 1698.2L1226.5 1799.2L1227.9 1824.5L1230.8 1852L1233.2 1864.6L1237.5 1877L1239.1 1879.8L1242.5 1883.7L1246 1885.6L1249.5 1885.5L1252.9 1882.8L1254.6 1880.4L1257.7 1873.2L1259.2 1868.3L1263.1 1847L1265.3 1825.9L1267.2 1797.7L1268.6 1761.3L1272 1616.1L1275.5 1751.6L1277.2 1785.5L1280.5 1822.4L1284.8 1845.9L1286.5 1851.4L1290.1 1859.7L1292 1862.7L1295.9 1866.5L1300 1867.8L1303.8 1866.4L1307.5 1862.3L1309.3 1859.1L1312.7 1850.1L1317.1 1828.7L1319.7 1807.4L1321.8 1779L1323.6 1742.4L1327.1 1611.7L1327.9 1596.1L1329 1607.1L1333.6 1723.2L1335.5 1750.9L1337.6 1772.7L1340 1789.2L1344.1 1806L1345.6 1809.8L1348.6 1815.1L1350.2 1816.7L1353.4 1818L1356.3 1817L1357.7 1815.7L1361.8 1808.5L1365.6 1795.4L1367.9 1782.4L1371.9 1743.4L1376.8 1662.1L1378.2 1645.8L1378.9 1643.6L1394.8 1752.9L1398.4 1770.5L1400.2 1776.6L1401.9 1780.5L1403.7 1781.9L1405.9 1780.3L1408.2 1775.9L1410.4 1769.2L1414.8 1750.6L1425.9 1695.9L1430.3 1680.6L1432.6 1676.2L1434.8 1674.6L1436.4 1675.3L1439.7 1680.3L1452.7 1717L1455.9 1721.9L1457.5 1722.7L1459.5 1722.1L1463.3 1718.5L1467.2 1712.4L1476.8 1694.4L1480.6 1689.4L1482.5 1688L1484.5 1687.5L1488 1688.4L1491.6 1690.7L1504 1702.1L1507.5 1703.8L1509.3 1704L1514.6 1703.5L1520 1702.2L1535.9 1696.4L1543.9 1694.2L1562.1 1692.6L1577.6 1691.9L2207.7 1691.9" stroke="#22ff00"/>
<path d="M490.5 1944.3L570.1 1944.3L573.3 1943.8L576.2 1944.3L579.4 1943.4L582.3 1944.3L585.5 1942.7L588.4 1944.3L591.6 1941.6L594.6 1944.3L597.8 1939.8L600.7 1944.3L603.9 1937L606.8 1944.3L610.1 1932.8L613 1944.3L616.2 1926.5L619.2 1944.3L622.5 1917.4L625.5 1944.3L628.8 1904.5L629.5 1909.4L631.8 1944.4L635.2 1887.4L638.3 1945.1L641.7 1865.1L644.9 1945.8L647.6 1848.4L648.5 1837L649.6 1856.1L651.8 1946.5L653.6 1858.1L655.5 1803.4L659 1947.2L661.6 1788.9L662.9 1765.6L663.6 1773.9L666.6 1948L669.7 1741.5L670.8 1725.1L671.7 1735.1L674.8 1948.8L677.7 1713.7L679.3 1684.2L681.7 1751.8L683.7 1949.8L685.7 1734.3L686.8 1673.9L687.7 1652.7L688.7 1644.9L689.7 1652.2L690.6 1673.6L691.7 1735.7L693.6 1950.4L696.1 1673.9L697.7 1619.7L699.2 1608.3L699.7 1609.7L701.8 1648.7L702.3 1674.2L704.6 1950.4L706.7 1673.8L707.8 1619.5L709.8 1580.8L711 1575.8L711.8 1578.1L713.8 1608.6L715.2 1673.9L715.8 1737.9L716 1950.4L717.2 1715.4L718.3 1620.5L720.1 1561.1L721.4 1544.5L722.3 1538.9L723.3 1537.1L724.2 1538.9L725.2 1544.5L726.5 1561.1L728.3 1620.5L729.3 1715.4L730.5 1950.4L732.4 1692L734.3 1595.7L736.3 1558.8L738.6 1543.1L739.2 1541.7L739.8 1541.3L740.4 1541.7L741.7 1545.5L743.9 1565.6L745.8 1609.5L746.9 1666.7L749.1 1950.4L750.2 1687.9L751.2 1581.2L752.4 1538.9L753.8 1514.6L755.4 1501.5L756.6 1497.1L757.8 1495.7L759.1 1497.1L760.3 1501.5L761.9 1514.6L763.3 1538.9L764.5 1581.2L765.5 1687.9L766.5 1950.4L768 1667.7L769.8 1561.7L771.9 1524L773.1 1513.7L775.1 1505.5L775.8 1504.4L776.5 1504L777.2 1504.4L779.2 1510.1L781.1 1524L782.2 1539.4L783.6 1576.2L784.7 1638.7L786.4 1950.4L787.7 1636L789.2 1538.1L790.3 1512.4L792.3 1488.7L793.9 1479.3L795.7 1473.2L797.5 1469.9L799.5 1468.8L801.4 1469.9L803.2 1473.2L805 1479.3L806.6 1488.7L808.6 1512.4L809.7 1538.1L811.2 1636L812.5 1950.4L813.7 1659.9L814.7 1576L816.1 1529.1L818.7 1497L820.2 1488.4L822.6 1481.6L823.4 1480.7L825.2 1480.7L827.7 1485.4L829.9 1497L831.3 1510L833.4 1557.2L834.6 1626.4L836.1 1950.4L837.2 1632.7L838.9 1522.5L840.2 1495.9L842.6 1472.3L844.6 1463L846.8 1457L849.3 1453.4L851.8 1451.6L854.4 1451.6L855.6 1452.3L858.1 1454.9L860.5 1459.7L862.6 1467.2L865.3 1486.4L867.3 1522.5L869 1632.7L870.1 1950.4L871.8 1590.2L873.2 1527.5L875.2 1494.3L876.8 1481.1L879.7 1469.2L882.9 1463.6L885.2 1462.6L887.4 1463.6L890.6 1469.2L893.5 1481.1L895.1 1494.3L896.5 1514.1L898.1 1564.6L898.9 1622L900.3 1950.4L901.1 1641.3L901.8 1560L902.8 1512.9L904.2 1484.7L906.9 1460.7L909.2 1451.5L911.8 1445.5L914.7 1441.8L917.8 1439.7L922.6 1439.2L925.7 1440.5L930.2 1445.5L932.8 1451.5L936.1 1467L938.5 1497L939.7 1533.2L940.5 1594.7L941.7 1946.5L943.2 1596.3L944.6 1524.1L946.7 1487.6L948.5 1473.4L951.7 1460.6L955.3 1454.2L958 1452.5L960.6 1452.5L963.2 1454.2L964.5 1455.8L968.1 1464L971 1479.7L972.7 1497.2L974.5 1542.6L975.4 1596L976.9 1943.3L977.8 1615.3L978.6 1539.2L979.7 1496.7L981.2 1471.8L982.2 1463.2L984.4 1451L987.1 1443.1L990.1 1438L993.5 1434.7L997.1 1432.9L1002.7 1432.5L1006.4 1433.7L1011.6 1437.9L1014.7 1443.1L1017.3 1451L1018.5 1456.4L1021.3 1482.5L1023.2 1538.8L1023.9 1614.4L1024.8 1936.9L1025.8 1659.2L1026.6 1576.7L1027.6 1526.8L1029.1 1496.1L1031.9 1469.6L1034.3 1459.4L1037 1452.6L1040.1 1448.3L1043.3 1446L1044.9 1445.4L1048.2 1445.4L1051.5 1446.9L1054.6 1450.2L1056.1 1452.6L1058.8 1459.3L1062.3 1476.5L1064.8 1509.3L1066.1 1548L1067 1611.4L1068.3 1925.8L1069.2 1592.3L1070.5 1500.2L1071.9 1471.4L1072.8 1461.8L1074.9 1448.3L1077.6 1439.8L1080.6 1434.2L1084.1 1430.7L1087.8 1428.5L1091.8 1427.5L1097.8 1427.9L1103.5 1430.6L1106.9 1434.2L1110 1439.7L1112.6 1448.2L1114.7 1461.5L1115.6 1471L1117.5 1520.6L1118.3 1588.5L1119.2 1895.5L1120.3 1636.4L1121.1 1560.5L1122.3 1514.9L1123.8 1486.9L1126.9 1462.8L1129.5 1453.5L1132.5 1447.4L1135.8 1443.5L1139.2 1441.3L1144.6 1440.8L1148.2 1442.2L1151.5 1445.1L1153.1 1447.3L1156.1 1453.3L1158.7 1462.5L1159.8 1468.7L1162.6 1497.7L1163.9 1531.5L1164.9 1586.1L1166.5 1841.7L1167.6 1580.8L1168.5 1517.7L1169.8 1482L1171.7 1461L1172.8 1453.7L1175.4 1443.3L1177 1439.6L1180.4 1434.1L1184.2 1430.6L1188.4 1428.5L1192.8 1427.5L1199.4 1427.9L1205.6 1430.5L1209.4 1434L1212.8 1439.2L1215.7 1447.2L1218.1 1459.5L1219.1 1468.1L1220.7 1492.9L1221.9 1533.9L1223.6 1744.4L1225.4 1568.6L1226.5 1523.5L1227.9 1493.8L1229.7 1474.4L1233.2 1456.7L1234.5 1452.8L1237.5 1447L1240.8 1443.4L1244.2 1441.3L1247.8 1440.7L1251.2 1441.3L1254.6 1443.2L1257.7 1446.6L1261.9 1455.5L1265.3 1471.1L1268 1498.1L1269.3 1526L1272 1644.2L1274.3 1526.6L1275.5 1494L1277.2 1472.1L1279.3 1457.5L1280.5 1452.1L1283.3 1444L1284.8 1441L1288.2 1436.5L1292 1433.6L1295.9 1432.1L1300 1431.6L1303.8 1432L1307.5 1433.4L1311 1436L1315.7 1442.4L1319.7 1453.5L1321.8 1464.6L1323.6 1479.9L1327.9 1553.1L1329 1547.7L1332.8 1499.2L1336.5 1473L1338.8 1464.1L1342.7 1454.9L1347.1 1449.7L1351.8 1447.4L1354.8 1447.4L1359.1 1449.1L1363.1 1452.9L1365.6 1456.7L1370 1467.8L1376.8 1496.3L1378.2 1499.8L1378.9 1500.3L1395.7 1451.6L1397.5 1449.4L1401.6 1447.9L1405.2 1447.3L1409.9 1447.9L1414.8 1449.8L1417 1452.7L1424.4 1466.7L1431.1 1474.8L1433.3 1476.4L1434.8 1476.7L1439.9 1475.1L1458.6 1462.3L1461.7 1460.9L1463.8 1460.5L1467.3 1461.2L1475.3 1464.4L1483.4 1466.8L1490.7 1468L1497.2 1466.8L1508.6 1462.5L1513.4 1461.8L1550.7 1465.3L2207.7 1465.3" stroke="#0000d2"/>
</g>
<rect x="495.2" y="1397.3" width="1749.4" height="1094.1" class="fr"/>
</g>
<g id="panel-c">
<path d="M893.2 2676.4 V2729.9 M893.2 3725.5 V3772.5" class="fr"/>
<path d="M893.2 2738.9 V3721.5" class="gd"/>
<path d="M1281.9 2676.4 V2729.9 M1281.9 3725.5 V3772.5" class="fr"/>
<path d="M1281.9 2738.9 V3721.5" class="gd"/>
<path d="M1670.7 2676.4 V2729.9 M1670.7 3725.5 V3772.5" class="fr"/>
<path d="M1670.7 2738.9 V3721.5" class="gd"/>
<path d="M2059.4 2676.4 V2729.9 M2059.4 3725.5 V3772.5" class="fr"/>
<path d="M2059.4 2738.9 V3721.5" class="gd"/>
<path d="M504.4 2950.4 H556.4 M2201.8 2950.4 H2253.8" class="fr"/>
<path d="M565.4 2950.4 H2197.8" class="gd"/>
<path d="M504.4 3224.4 H556.4 M2201.8 3224.4 H2253.8" class="fr"/>
<path d="M565.4 3224.4 H2197.8" class="gd"/>
<path d="M504.4 3498.5 H556.4 M2201.8 3498.5 H2253.8" class="fr"/>
<path d="M565.4 3498.5 H2197.8" class="gd"/>
<g class="cv">
<path d="M499.7 3224.4L506.4 3223.9L511.8 3225.2L518 3223.3L524.5 3226L528.5 3223.1L530.5 3222.2L536.5 3227.6L538.5 3225.9L540.5 3222.2L542.6 3220.1L544.5 3222.2L546.5 3227.2L548.8 3230.4L550.6 3227.9L552.6 3221.2L554.9 3216.4L556.6 3219.3L558.6 3228.3L561.1 3235.4L562.6 3232L566.6 3210.5L567.2 3209.8L568.6 3213.6L572.6 3242.6L573.4 3244L574.6 3239.8L578.7 3201.1L579.5 3198.7L580.7 3203L584.7 3253.8L585.7 3258.2L586.7 3253.9L590.7 3188L591.8 3180.6L592.7 3184.6L596.7 3268.8L598 3280.8L598.7 3277.6L600.7 3232.9L602.7 3171.5L604.2 3152.5L604.7 3154.8L606.7 3207L608.7 3286.3L610.4 3315.3L612.7 3255.4L614.7 3154.3L616.6 3110.9L618.7 3173.2L620.7 3299.9L622.8 3364.7L624.7 3305L626.7 3150.5L629.1 3053.6L630.7 3103.1L632.7 3284L634.7 3418.6L635.5 3429.4L636.7 3396.7L640.7 3012.5L642 2983L642.8 2996L644.8 3174.3L646.8 3435.5L648.6 3503L650.8 3387.6L652.8 3058.9L654.8 2916.4L655.4 2910.5L656.8 2945.7L660.8 3527.4L662.5 3569.5L664.8 3469.8L666.8 3036.5L668.8 2866.3L670 2855.2L670.8 2860.5L672.8 2995L674.8 3493.4L676.8 3604.1L678 3609.3L678.8 3606.7L680.8 3523.2L682.8 2977.2L684.9 2838L686.9 2833.3L688.9 2844L690.9 3139.9L692.9 3599.8L694.2 3615.9L696.2 3613.4L698.2 3615.9L698.9 3612.4L700.9 3308.6L702.9 2839.1L703.6 2833L704.9 2839L707 2844.7L710 2833L711 2851.3L713 3505.5L714.4 3615.9L717 3595.5L718.8 3589.7L721 3598.6L723 3615.9L726.7 2833L729.1 2860.6L731.1 2874.8L732.2 2876.8L733.1 2875.6L735.1 2862.7L737.6 2833L740.8 3615.9L743.1 3579.4L745.1 3560L747.5 3553L749.2 3556.6L751.2 3572.1L754.1 3615.9L755.2 3446.2L756.9 2833L759.2 2876.2L761.2 2900.7L763.2 2912.3L765 2915.3L767.3 2910.2L769.3 2895.2L772.9 2833L775.3 3615L779.4 3542.2L781.4 3525.3L783.4 3517L785.1 3515L787.4 3519.1L789.5 3530.4L791.5 3552.8L794.5 3615.9L796.7 2833L799.5 2899L801.5 2925.3L803.5 2940.2L805.5 2948.2L808 2951.3L809.6 2949.9L811.6 2943.6L813.7 2931.1L815.7 2908.6L819 2833L819.7 2953.1L821 3615.9L823.7 3545.5L825.7 3516.1L827.7 3499.2L829.8 3489.1L831.8 3483.6L833.9 3481.8L835.9 3483.3L838 3488.6L840 3498.5L842 3515.3L844.1 3545.2L846.7 3615.9L848.1 2880.2L848.6 2833L852.1 2924.9L854.2 2949.2L856.2 2963.7L858.2 2972.9L860.2 2978.3L862.3 2980.9L863.3 2981.2L864.3 2980.9L866.4 2978.3L868.4 2972.7L870.4 2963.3L872.5 2947.9L874.5 2922.4L877.8 2833L879.6 3615.9L882.5 3528.4L884.5 3499.2L886.6 3481.4L888.6 3469.9L890.6 3462.6L892.7 3458L894.8 3455.8L896.1 3455.4L898.8 3457.2L900.9 3461L902.9 3467.7L905 3477.9L907 3493.6L909 3519.9L912.3 3615.9L914 2833L917 2926.7L919 2956.2L921.1 2974.2L923.1 2986L925.2 2993.8L927.2 2999.2L929.3 3002.4L932.3 3004.1L933.4 3003.9L935.4 3002.3L937.5 2998.9L939.5 2993.4L941.5 2985.3L943.6 2973.1L945.6 2954.4L947.6 2922.6L950.4 2833.1L951.9 3615.9L953.6 3550.9L955.7 3505.1L957.7 3480.5L959.7 3464.7L961.8 3454.2L963.8 3446.9L965.8 3441.7L967.9 3438.4L969.9 3436.5L972 3435.9L974 3436.5L976 3438.5L978.1 3441.9L980.1 3447.2L982.1 3454.7L984.2 3465.9L986.2 3482.4L988.2 3508.8L990.3 3559.3L991.7 3615.8L993.2 2833L996.3 2936.5L998.4 2966.2L1000.4 2984.3L1002.4 2996.4L1006.5 3011.1L1008.6 3015.4L1010.6 3018.2L1012.7 3019.8L1014.7 3020.4L1016.9 3019.8L1019 3018L1021 3015.1L1023 3010.7L1027.1 2995.6L1029.1 2983.2L1031.2 2964.5L1033.2 2932.7L1036.1 2833L1037.5 3615.9L1039.2 3545.1L1041.3 3498.5L1043.3 3473.4L1045.3 3457.1L1049.3 3438.3L1053.5 3428.3L1055.5 3425.4L1057.6 3423.6L1060.4 3422.7L1063.6 3423.9L1065.7 3425.9L1069.8 3433.5L1073.9 3448.4L1075.9 3460.5L1078 3478.7L1080 3508.7L1083.1 3615.9L1084.5 2833L1086.1 2898.7L1088.1 2949.2L1090.1 2975.8L1092.1 2993L1094.2 3004.6L1098.2 3019L1102.4 3026.7L1104.4 3028.9L1106.5 3030.2L1108.5 3030.6L1110.7 3030.1L1112.8 3028.7L1114.9 3026.4L1119 3018.3L1123.1 3003L1125.2 2990.4L1127.2 2972.3L1129.2 2942.3L1132.3 2833L1133.7 3615.9L1135.3 3548.3L1137.3 3498L1139.3 3471L1141.3 3454.1L1143.4 3442.3L1147.5 3427.8L1149.5 3423.2L1153.7 3417.4L1155.7 3416L1158.5 3415.3L1161.9 3416.4L1163.9 3418.1L1168 3424.5L1172.1 3436.2L1176.2 3458.7L1178.3 3478.5L1180.3 3511.3L1183.1 3615.9L1184.5 2833.1L1186.4 2912.6L1188.4 2957.5L1190.4 2982L1192.4 2997.9L1194.4 3009L1198.6 3023.2L1200.6 3027.5L1204.7 3033.1L1206.8 3034.5L1209.6 3035.3L1213.1 3034.2L1215.2 3032.6L1219.2 3026.6L1223.4 3015.2L1227.5 2994.4L1229.5 2976.8L1231.5 2948.7L1233.5 2893.8L1234.9 2833.1L1236.2 3615.8L1237.5 3555.3L1239.5 3500.3L1241.5 3472.1L1243.6 3454.4L1247.6 3433.5L1251.8 3422.1L1255.9 3416L1258 3414.3L1261.4 3413.3L1264.3 3414L1266.4 3415.4L1270.5 3420.9L1272.5 3425.2L1276.6 3438.9L1278.7 3449.8L1280.7 3465.4L1282.7 3488.7L1284.8 3530.4L1286.8 3615.9L1288.2 2833L1290.8 2931.9L1292.8 2967.3L1294.9 2988.1L1299 3011.8L1303.1 3024.2L1307.1 3031L1311.3 3034.2L1313.5 3034.7L1317.6 3033.2L1319.7 3031.3L1323.8 3024.7L1327.9 3012.5L1332 2990L1334 2970.7L1336 2938.8L1338.9 2833L1340.3 3615.9L1342 3542L1344 3495.4L1346.1 3469.9L1348.1 3453.4L1350.2 3442.4L1354.3 3428.3L1358.4 3420.6L1362.5 3417.1L1365 3416.5L1368.6 3417.7L1370.7 3419.5L1374.8 3426.1L1378.8 3438.1L1382.9 3460.9L1384.9 3480.9L1386.9 3513.9L1389.7 3615.9L1391.1 2833L1393 2909L1395 2953.8L1397.1 2978.3L1399.1 2994.2L1403.3 3013.1L1405.3 3018.7L1409.4 3025.7L1411.4 3027.6L1414.8 3028.8L1417.7 3028L1419.8 3026.3L1423.9 3020L1425.9 3014.7L1430 2997.9L1432.1 2983.8L1434.1 2962.9L1436.1 2927.6L1438.7 2833.1L1440.1 3615.9L1442.2 3536L1444.2 3494.8L1446.2 3471.6L1448.2 3456.6L1452.3 3438.8L1456.5 3429.6L1458.5 3427.1L1460.6 3425.6L1462.6 3425.1L1464.8 3425.7L1466.8 3427.2L1468.9 3429.8L1473 3439.2L1477.1 3457L1479.1 3472L1481.1 3495L1483.1 3535.7L1485.2 3615.9L1486.7 2833L1489.1 2920.9L1491.1 2956.4L1493.2 2977.4L1495.2 2990.9L1497.3 3000.5L1499.4 3007.2L1501.4 3011.8L1503.4 3014.9L1505.5 3016.7L1507.6 3017.3L1509.6 3016.8L1511.6 3015.1L1513.7 3012.2L1515.7 3007.8L1519.8 2992.9L1521.8 2980.1L1523.9 2961L1525.9 2929.7L1528.8 2833L1530.4 3615.8L1531.9 3556.7L1533.9 3509.1L1536 3483.6L1538 3467.8L1540 3457L1542.1 3449.6L1544.1 3444.7L1546.2 3441.6L1548.2 3439.9L1549.7 3439.6L1552.4 3440.9L1554.4 3443.4L1556.5 3447.7L1558.5 3454.1L1560.6 3463.3L1562.7 3477L1564.7 3497.5L1566.7 3532.7L1569.1 3615.9L1570.7 2833.8L1572.7 2900.6L1574.8 2941L1576.8 2963.6L1578.9 2977.9L1580.9 2987L1583 2993.3L1585 2997.2L1587 2999.2L1588.5 2999.6L1591.1 2998.2L1593.2 2995.2L1595.2 2990.1L1597.2 2982.5L1599.3 2971L1601.3 2953.5L1603.3 2924.8L1606.4 2833.1L1608.2 3615.9L1611.4 3526.3L1613.4 3499.3L1615.4 3483.1L1617.4 3472.8L1619.4 3466.2L1621.5 3462.3L1624.1 3460.6L1625.5 3461.2L1627.5 3463.7L1629.6 3468.5L1631.6 3476.5L1633.6 3488.9L1635.6 3508L1637.7 3540.8L1640.2 3615.9L1642.1 2833L1645.7 2923.6L1647.7 2946.4L1649.8 2960.4L1651.8 2968.7L1653.8 2973.4L1656.1 2975.2L1657.9 2974.2L1659.9 2970.5L1661.9 2963.3L1664 2951.7L1666 2932.7L1668 2900.3L1670.4 2833L1672 3588.1L1672.4 3615.9L1676 3533.1L1678 3511.4L1680.1 3498.5L1682.1 3491.6L1684.1 3488.7L1684.7 3488.6L1686.2 3489.5L1688.2 3493.9L1690.2 3502.7L1692.2 3517.9L1694.2 3544.3L1697.2 3615.9L1699.4 2833L1702.3 2897.8L1704.3 2922.4L1706.3 2935.8L1708.4 2942.3L1710 2943.8L1712.4 2940.3L1714.4 2931.4L1716.4 2914.7L1718.5 2884.4L1720.7 2833L1722.5 3559.6L1723.2 3615.9L1726.5 3552.9L1728.5 3534.1L1730.5 3525.2L1732.1 3523.1L1734.5 3527.7L1736.6 3539.8L1738.6 3563.4L1741.3 3615.9L1744 2833L1746.6 2877.7L1748.6 2897.8L1750.7 2906L1751.5 2906.7L1752.7 2905.3L1754.7 2895.8L1756.7 2874.5L1759.2 2833L1762.2 3615.9L1764.7 3581.6L1766.7 3565.4L1768.4 3561.5L1770.8 3569L1774.7 3615.9L1776.8 3018.9L1778.2 2833L1780.8 2859.2L1783.2 2868.7L1784.8 2864.3L1788.3 2833L1788.9 2843L1790.9 3512.6L1792.3 3615.9L1794.9 3599.5L1796.2 3596.6L1796.9 3597.5L1800.1 3615.9L1800.9 3601.2L1802.9 2985.5L1804.9 2833L1806.9 2839.2L1807.6 2839.9L1810.3 2833L1810.9 2836.1L1812.9 3151.7L1814.9 3601L1816.5 3615.9L1817.8 3615.4L1819.1 3615.9L1821 3592.6L1823 3144L1825 2849.5L1827 2835L1829 2846.9L1831 3060.2L1833 3543.9L1835 3602.7L1835.4 3603.5L1837 3585.9L1839 3355L1841 2928.4L1843 2865L1845 2911.7L1849 3527.7L1850.4 3556.4L1851 3550.2L1853 3407.1L1855 3047L1857.3 2925.8L1859.1 2986.4L1863.1 3468.8L1864 3486.6L1865.1 3463.8L1869.1 3044.2L1870.5 2999.4L1871.1 3005.9L1873.1 3137.2L1875.1 3346.7L1876.9 3413.9L1879.1 3323.2L1881.1 3147.3L1883.2 3067.6L1885.1 3127.5L1887.1 3270L1889.5 3352.4L1891.1 3312.8L1893.1 3199.4L1895.1 3124.9L1895.7 3121.4L1897.1 3147.6L1899.1 3236.4L1901.1 3301.6L1901.8 3306.5L1903.2 3289.5L1907.2 3165.5L1908 3159.8L1909.2 3170.7L1913.2 3268.8L1914.1 3274.9L1915.2 3268.2L1919.2 3191.6L1920.3 3185.4L1921.2 3189.4L1925.2 3248.4L1926.4 3254.4L1927.2 3252.1L1931.2 3207.2L1932.6 3201.7L1933.2 3202.9L1937.2 3236.6L1938.7 3241.7L1939.2 3241.1L1941.2 3230.1L1943.2 3216L1944.8 3211.6L1947.2 3219.5L1949.2 3230.2L1951 3234L1953.2 3228.7L1955.2 3220.7L1957.1 3217.4L1959.2 3220.9L1961.2 3226.9L1963.2 3229.6L1965.2 3227.3L1967.2 3222.9L1969.4 3220.7L1971.2 3222.2L1973.2 3225.3L1975.5 3227.1L1981.6 3222.5L1987.7 3225.8L1993.9 3223.5L2000 3225.1L2006.2 3224L2010.6 3224.6L2215.9 3224.4" stroke="#dc0000"/>
<path d="M737.7 3224.4L1865 3224.4" stroke="#22ff00"/>
<path d="M499.7 3224.4L576.3 3224.4L579.5 3223.9L582.4 3224.4L585.7 3223.4L588.6 3224.4L591.8 3222.7L594.8 3224.4L598 3221.6L600.9 3224.4L604.2 3219.8L607.1 3224.4L610.4 3217L613.3 3224.4L616.6 3212.7L619.5 3224.4L622.8 3206.3L625.8 3224.4L629.1 3197L632.1 3224.4L632.7 3221.3L634.7 3188.3L635.5 3183.9L638.6 3224.4L640.7 3180.8L642 3166.2L642.8 3173.2L645.1 3224.9L648.6 3143.6L651.8 3225.6L654.8 3120.6L655.4 3115.3L656.8 3144.2L658.8 3226.3L660.8 3125.7L662.5 3081.5L666 3227.1L668.8 3063.1L670 3043.4L670.8 3053.5L673.7 3227.9L676.8 3019.5L678 3002.8L678.8 3011.8L682 3228.7L684.9 2996.7L686.7 2961.9L688.9 3017.9L691.1 3229.7L692.9 3031.7L694.2 2953.1L694.9 2935.1L696.2 2922.6L696.9 2926.1L698.2 2953.3L698.9 2989.9L701.1 3230.5L703.6 2953.3L704.9 2905.2L706.8 2886.2L709 2911.7L710 2953.4L712.3 3230.5L715 2920.4L717 2865.3L718.8 2853.9L721 2872.1L723 2952.4L725 3230.5L727 2928.5L729.1 2851.3L731.1 2828.9L732.2 2826.1L733.1 2827.9L735.1 2847.7L737.1 2918.1L739.2 3230.5L741.1 2919.4L743.1 2836.7L745.1 2810.8L747.5 2802.8L749.2 2806.9L751.2 2826.1L753.2 2884.7L754.1 2953.2L755.5 3230.5L757.2 2920.4L759.2 2826.9L761.2 2797.8L763.2 2786.3L765 2783.5L767.3 2788.3L769.3 2803.6L771.3 2844.3L772.9 2954.4L774.2 3230.5L775.4 2953.8L777.3 2829.1L779.4 2791.7L781.4 2776.2L783.4 2769.4L785.1 2767.8L787.4 2771.1L789.5 2780.6L791.5 2802.6L793.5 2864.2L794.5 2953.4L795.6 3230.5L797.5 2872.7L799.5 2799.6L801.5 2774.7L803.5 2763L805.5 2757.2L808 2755L809.6 2756L811.6 2760.4L813.7 2770L815.7 2789.9L817.7 2841.7L819 2952.7L820 3230.5L821 2952.8L821.7 2874.7L823.7 2795L825.7 2768.6L827.7 2756.1L829.8 2749.4L831.8 2745.8L833.9 2744.7L835.9 2745.7L838 2749L840 2755.6L842 2768L844.1 2794.7L846.1 2880L847.6 3230.5L848.6 2952.3L850.1 2820.5L852.1 2775.1L854.2 2756.5L856.2 2746.8L858.2 2741.2L860.2 2738L863.3 2736.4L866.4 2738.1L868.4 2741.3L870.4 2747.1L872.5 2757.4L874.5 2777.2L876.5 2829.2L877.8 2953.9L878.7 3230.5L879.6 2952.6L880.5 2844.2L882.5 2778.9L884.5 2756.1L886.6 2744.4L888.6 2737.7L890.6 2733.6L892.7 2731.1L896.1 2729.8L898.8 2730.7L900.9 2732.7L902.9 2736.4L905 2742.4L907 2752.3L909 2771.7L911 2821.6L912.3 2954.4L913.2 3230.5L914 2953.3L915 2835.8L917 2773.7L919 2751.7L921.1 2740.4L923.1 2733.7L925.2 2729.6L927.2 2726.9L929.3 2725.3L932.3 2724.5L935.4 2725.4L937.5 2727L939.5 2729.8L941.5 2734.1L943.6 2741.1L945.6 2752.9L947.6 2777L949.6 2853.7L951.1 3230.5L951.9 2953.9L953.6 2800.6L955.7 2760.3L957.7 2743.9L959.7 2734.7L961.8 2729.2L965.8 2723L967.9 2721.4L972 2720.3L976 2721.5L980.1 2725.6L982.1 2729.4L984.2 2735.4L986.2 2745.1L988.2 2763.1L990.3 2810L991.7 2955.1L992.4 3230.5L993.2 2953.9L994.3 2823.8L996.3 2765.8L998.4 2745.3L1000.4 2734.7L1002.4 2728.3L1004.5 2724L1008.6 2719.2L1010.6 2718L1014.8 2717L1019 2718.1L1021 2719.4L1025.1 2724.3L1027.1 2728.7L1029.1 2735.3L1031.2 2746.3L1033.2 2768.8L1035.2 2837.8L1036.1 2954.2L1036.8 3230.5L1037.5 2952.7L1039.2 2794.6L1041.3 2755.7L1043.3 2739.7L1045.3 2730.7L1047.3 2725.2L1051.4 2718.8L1055.5 2715.7L1060.4 2714.6L1063.6 2715.1L1067.7 2717.2L1071.8 2722L1073.9 2726.2L1075.9 2732.4L1078 2742.8L1080 2763L1082 2819.6L1083.1 2952L1083.8 3230.5L1084.5 2954.1L1086.1 2799.9L1088.1 2756.5L1090.1 2739.5L1092.1 2730L1094.2 2724.2L1096.2 2720.3L1100.3 2715.7L1104.4 2713.4L1108.6 2712.8L1112.8 2713.5L1117 2715.9L1121.1 2720.9L1123.1 2725L1125.2 2731.4L1127.2 2741.6L1129.2 2761.4L1131.2 2817.4L1132.3 2952.1L1133 3230.5L1133.7 2953.9L1135.3 2797.8L1137.3 2755.3L1139.3 2738.3L1141.3 2729.1L1143.4 2723.3L1145.4 2719.5L1149.5 2714.8L1153.7 2712.4L1158.5 2711.6L1163.9 2712.7L1168 2715.3L1172.1 2720.4L1174.1 2724.8L1176.2 2731.5L1178.3 2742.7L1180.3 2765L1182.3 2835.4L1183.1 2954.6L1183.8 3230.5L1184.5 2951.8L1186.4 2786L1188.4 2750.8L1190.4 2735.9L1192.4 2727.5L1194.4 2722.2L1198.6 2715.8L1202.7 2712.7L1206.8 2711.2L1209.6 2710.9L1215.2 2712L1219.2 2714.4L1223.4 2719.3L1225.4 2723.3L1227.5 2729.3L1229.5 2738.9L1231.5 2756.9L1233.5 2805.2L1234.9 2955.3L1235.5 3230.5L1236.2 2951.9L1237.5 2805.4L1239.5 2756.9L1241.5 2738.9L1243.6 2729.3L1245.6 2723.2L1247.6 2719.2L1251.8 2714.3L1255.9 2711.8L1261.4 2710.8L1264.3 2711L1268.4 2712.5L1272.5 2715.6L1276.6 2721.7L1278.7 2726.9L1280.7 2735.1L1282.7 2749.1L1284.8 2780.7L1286.8 2937.8L1287.5 3230.5L1288.8 2856.9L1290.8 2769.4L1292.8 2744.6L1294.9 2732.6L1296.9 2725.5L1299 2720.9L1303.1 2715.4L1307.1 2712.6L1313.4 2711.1L1319.7 2712.5L1323.8 2715.2L1327.9 2720.5L1329.9 2725L1332 2731.6L1334 2742.5L1336 2764.1L1338 2829.6L1338.9 2954.7L1339.6 3230.5L1340.3 2954.6L1342 2791.5L1344 2753.5L1346.1 2737.6L1348.1 2728.8L1350.2 2723.3L1354.3 2716.9L1358.4 2713.7L1362.5 2712.3L1365 2712L1370.7 2713.3L1374.8 2716L1378.8 2721.3L1380.8 2725.8L1382.9 2732.7L1384.9 2744.2L1386.9 2766.9L1389 2840.5L1389.7 2953.7L1390.4 3230.5L1391.1 2953.1L1393 2789.4L1395 2753.3L1397.1 2738L1399.1 2729.4L1401.2 2724L1405.3 2717.7L1409.4 2714.8L1414.8 2713.5L1419.8 2714.5L1423.9 2717.2L1428 2722.8L1430 2727.5L1432.1 2734.9L1434.1 2747.3L1436.1 2772.9L1438.1 2863.4L1439.4 3230.5L1440.1 2950.1L1442.2 2785.8L1444.2 2753.1L1446.2 2738.6L1448.2 2730.4L1450.3 2725.2L1454.4 2719.2L1458.5 2716.4L1462.6 2715.6L1466.8 2716.5L1470.9 2719.3L1475 2725.4L1477.1 2730.6L1479.1 2738.8L1481.1 2753.2L1483.1 2785.4L1485.1 2932.6L1485.9 3230.5L1487.1 2881L1489.1 2778.5L1491.1 2751.6L1493.2 2738.5L1495.2 2731.1L1497.3 2726.2L1501.4 2720.9L1503.4 2719.4L1507.5 2718.4L1511.6 2719.3L1513.7 2720.7L1517.7 2725.7L1519.8 2730.1L1521.8 2737L1523.9 2748.6L1525.9 2771.1L1527.9 2839L1528.8 2953.1L1529.6 3230.5L1530.4 2951.9L1531.9 2807L1533.9 2763.3L1536 2745.8L1538 2736.4L1540 2730.6L1542.1 2726.8L1546.2 2722.9L1549.7 2722L1552.4 2722.6L1556.5 2725.9L1558.5 2729.1L1560.6 2734L1562.7 2741.8L1564.7 2755L1566.7 2782.7L1568.7 2881.5L1569.9 3230.5L1570.8 2953.2L1572.7 2797.9L1574.8 2762.4L1576.8 2746.9L1578.9 2738.3L1580.9 2733.2L1583 2729.8L1585 2727.9L1588.5 2726.7L1591.1 2727.3L1593.2 2728.9L1595.2 2731.5L1597.2 2735.7L1599.3 2742.3L1601.3 2753.5L1603.3 2775.2L1605.3 2834.4L1606.4 2951.8L1607.3 3230.5L1608.2 2954.1L1609.4 2834L1611.4 2777.1L1613.4 2756.2L1615.4 2745.5L1617.4 2739.3L1619.4 2735.6L1621.5 2733.4L1624.1 2732.5L1625.5 2732.8L1627.5 2734.2L1629.6 2736.9L1631.6 2741.5L1633.6 2749.2L1635.6 2762.5L1637.7 2790.3L1639.7 2881.6L1641.1 3230.5L1642.1 2952.2L1643.7 2819.6L1645.7 2776.3L1647.7 2758.5L1649.8 2748.9L1651.8 2743.7L1653.8 2740.9L1656.1 2739.9L1657.9 2740.4L1659.9 2742.6L1661.9 2747.1L1664 2754.8L1666 2768.8L1668 2798.2L1670 2897.4L1671.4 3230.5L1672.4 2954.1L1674 2827.3L1676 2783.1L1678 2765L1680.1 2755.7L1682.1 2751L1684.7 2749L1686.2 2749.6L1688.2 2752.5L1690.2 2758.6L1692.2 2770.1L1694.2 2793.8L1696.2 2859.1L1697.2 2953.4L1698.3 3230.5L1699.4 2954.6L1700.2 2868.6L1702.3 2800.8L1704.3 2777.3L1706.3 2766.3L1708.4 2761.4L1710 2760.3L1712.4 2762.9L1714.4 2769.8L1716.4 2784.1L1718.5 2816.2L1720.5 2922.3L1721.9 3230.5L1723.2 2952.7L1724.5 2851.8L1726.5 2802.7L1728.5 2784L1730.5 2776.1L1732.1 2774.4L1734.5 2778.3L1736.6 2789.4L1738.6 2814.9L1740.6 2888.4L1742.6 3230.5L1744.6 2897.5L1746.6 2824.9L1748.6 2800.8L1750.7 2792.4L1751.5 2791.6L1752.7 2793L1754.7 2802.9L1756.7 2829.3L1758.7 2908.2L1760.7 3230.5L1762.7 2914.7L1764.7 2840.1L1766.7 2817.4L1768.4 2812.6L1770.8 2821.9L1772.8 2853.3L1774.7 2952.7L1776.4 3230.5L1778.8 2914.3L1780.8 2853.9L1783.2 2837.9L1784.8 2844.9L1786.9 2881.1L1788.3 2953.8L1790.2 3230.5L1792.3 2953.6L1792.9 2923.6L1794.9 2874.2L1796.2 2867.7L1796.9 2869.7L1798.9 2901.4L1800.1 2953.6L1802.3 3230.5L1804.9 2954.3L1806.9 2904.6L1807.6 2901.9L1808.9 2912.2L1810.9 2988L1813.1 3230.5L1814.9 3028.9L1816.5 2953.6L1817.8 2940L1819.1 2953.3L1821 3047.4L1822.7 3230.5L1825 3033L1827 2980.9L1829 3026.5L1831.5 3230.5L1833 3113.5L1835.4 3022.6L1837 3059.8L1839.5 3230.5L1841 3134.7L1843.1 3063L1845 3120.1L1847 3230.5L1849 3128.6L1850.4 3100.2L1851 3107L1854 3230.5L1857.3 3132.5L1860.8 3230.5L1863.1 3169.9L1864 3159.2L1865.1 3172.7L1867.4 3230.5L1870.5 3180.1L1871.1 3183.3L1873.1 3223.5L1873.9 3230.5L1876.9 3195.9L1880.2 3230.5L1883.2 3207.3L1886.5 3230.3L1889.5 3214.8L1892.7 3229.6L1895.7 3219.6L1898.9 3229L1901.8 3222.6L1905.1 3228.4L1908 3224.3L1911.2 3227.7L1914.1 3225.1L1917.4 3227.1L1920.3 3225.4L1923.5 3226.4L1926.4 3225.3L1929.7 3225.8L1932.6 3225L1944.8 3224.3L2215.9 3224.4" stroke="#0000d2"/>
</g>
<rect x="504.4" y="2676.4" width="1749.4" height="1096.1" class="fr"/>
</g>
<text x="423.0" y="127.0" class="tk" text-anchor="end">1</text>
<text x="434.8" y="396.4" class="tk" text-anchor="end">0.5</text>
<text x="434.8" y="674.2" class="tk" text-anchor="end">0</text>
<text x="434.8" y="943.3" class="tk" text-anchor="end">-0.5</text>
<text x="423.0" y="1221.0" class="tk" text-anchor="end">-1</text>
<text x="440.5" y="1404.1" class="tk" text-anchor="end">1</text>
<text x="452.5" y="1677.6" class="tk" text-anchor="end">0.5</text>
<text x="452.5" y="1949.8" class="tk" text-anchor="end">0</text>
<text x="452.5" y="2224.7" class="tk" text-anchor="end">-0.5</text>
<text x="440.5" y="2497.9" class="tk" text-anchor="end">-1</text>
<text x="450.5" y="2683.2" class="tk" text-anchor="end">1</text>
<text x="462.8" y="2956.6" class="tk" text-anchor="end">0.5</text>
<text x="462.8" y="3230.6" class="tk" text-anchor="end">0</text>
<text x="462.8" y="3504.3" class="tk" text-anchor="end">-0.5</text>
<text x="450.5" y="3779.2" class="tk" text-anchor="end">-1</text>
<text x="505.8" y="3888" class="tk" text-anchor="middle">0</text>
<text x="889.2" y="3888" class="tk" text-anchor="middle">200</text>
<text x="1281.8" y="3888" class="tk" text-anchor="middle">400</text>
<text x="1667.5" y="3888" class="tk" text-anchor="middle">600</text>
<text x="2062.2" y="3888" class="tk" text-anchor="middle">800</text>
<text transform="translate(134.0 688.0) rotate(-90)" class="ti" text-anchor="middle">v<tspan class="sb" dy="63">x</tspan><tspan dy="-63">/c, v</tspan><tspan class="sb" dy="63">y</tspan><tspan dy="-63">/c, v</tspan><tspan class="sb" dy="63">z</tspan><tspan dy="-63">/c</tspan></text>
<text transform="translate(180.0 1966.0) rotate(-90)" class="ti" text-anchor="middle">v<tspan class="sb" dy="63">x</tspan><tspan dy="-63">/c, v</tspan><tspan class="sb" dy="63">y</tspan><tspan dy="-63">/c, v</tspan><tspan class="sb" dy="63">z</tspan><tspan dy="-63">/c</tspan></text>
<text transform="translate(173.5 3277.0) rotate(-90)" class="ti" text-anchor="middle">v<tspan class="sb" dy="63">x</tspan><tspan dy="-63">/c, v</tspan><tspan class="sb" dy="63">y</tspan><tspan dy="-63">/c, v</tspan><tspan class="sb" dy="63">z</tspan><tspan dy="-63">/c</tspan></text>
<text transform="translate(1312.5 4011) scale(1.07 0.94)" class="om">ω</text>
<text x="1385.5" y="4074" class="sb">0</text>
<text x="1453" y="4011.5" class="ti" style="font-size:117px">t</text>
<text x="2142.5" y="218.3" class="tg" text-anchor="middle">(a)</text>
<text x="2150" y="1582.7" class="tg" text-anchor="middle">(b)</text>
<text x="2157.2" y="2862.6" class="tg" text-anchor="middle">(c)</text>
</svg></body></html>
